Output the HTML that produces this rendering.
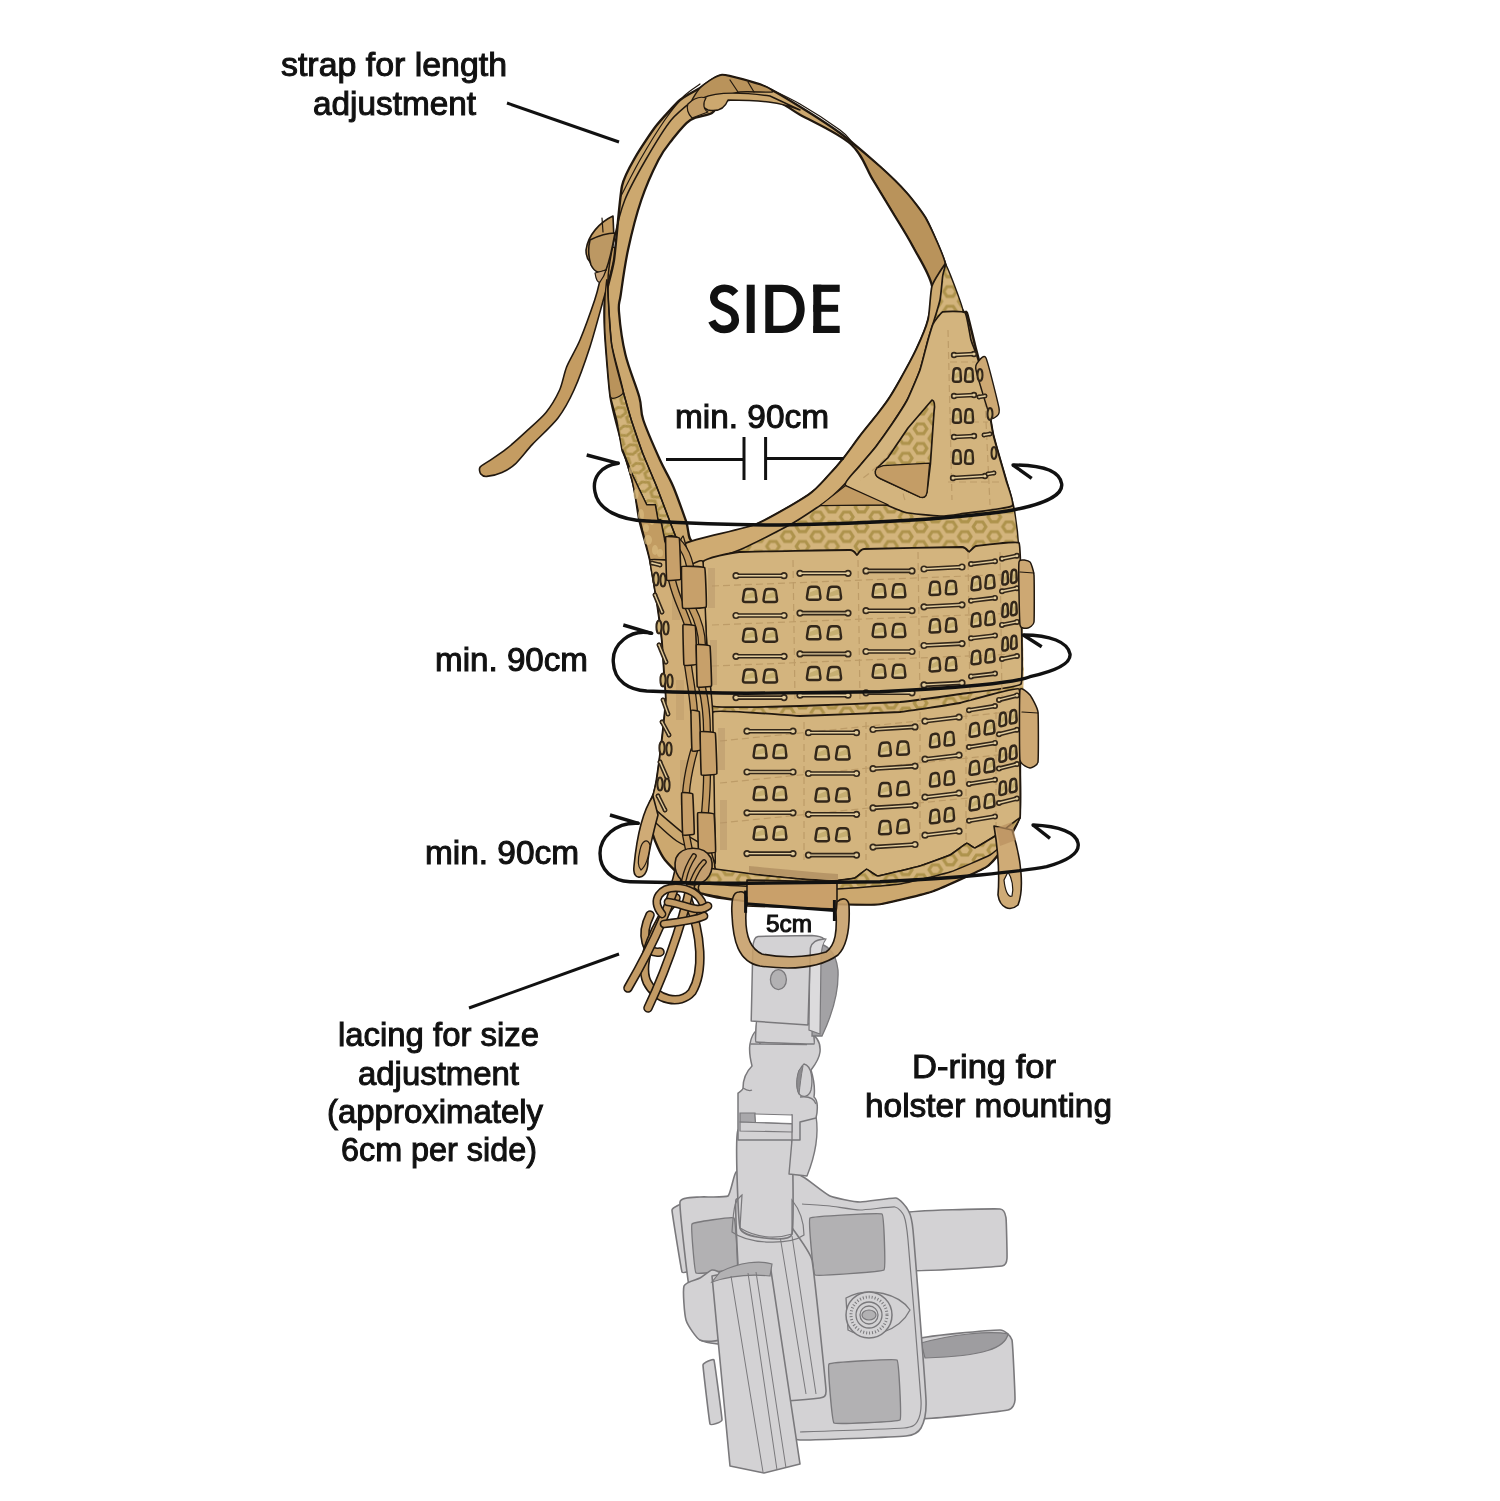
<!DOCTYPE html>
<html><head><meta charset="utf-8"><style>
html,body{margin:0;padding:0;background:#fff;}
body{width:1500px;height:1501px;overflow:hidden;position:relative;}
svg{position:absolute;left:0;top:0;will-change:transform;}
text{font-family:"Liberation Sans",sans-serif;fill:#111;}
</style></head><body>
<svg width="1500" height="1501" viewBox="0 0 1500 1501">
<defs><pattern id="hex" patternUnits="userSpaceOnUse" width="29.5" height="19.6" x="14.3" y="2.5"><rect width="29.5" height="19.6" fill="#d3b47c"/><g fill="none" stroke="#ae934c" stroke-width="3.1"><polygon points="-29.30,-14.80 -26.15,-19.60 -19.85,-19.60 -16.70,-14.80 -19.85,-10.00 -26.15,-10.00"/><polygon points="-29.30,4.80 -26.15,0.00 -19.85,0.00 -16.70,4.80 -19.85,9.60 -26.15,9.60"/><polygon points="-29.30,24.40 -26.15,19.60 -19.85,19.60 -16.70,24.40 -19.85,29.20 -26.15,29.20"/><polygon points="0.20,-14.80 3.35,-19.60 9.65,-19.60 12.80,-14.80 9.65,-10.00 3.35,-10.00"/><polygon points="0.20,4.80 3.35,0.00 9.65,0.00 12.80,4.80 9.65,9.60 3.35,9.60"/><polygon points="0.20,24.40 3.35,19.60 9.65,19.60 12.80,24.40 9.65,29.20 3.35,29.20"/><polygon points="29.70,-14.80 32.85,-19.60 39.15,-19.60 42.30,-14.80 39.15,-10.00 32.85,-10.00"/><polygon points="29.70,4.80 32.85,0.00 39.15,0.00 42.30,4.80 39.15,9.60 32.85,9.60"/><polygon points="29.70,24.40 32.85,19.60 39.15,19.60 42.30,24.40 39.15,29.20 32.85,29.20"/><polygon points="-14.55,-5.00 -11.40,-9.80 -5.10,-9.80 -1.95,-5.00 -5.10,-0.20 -11.40,-0.20"/><polygon points="-14.55,14.60 -11.40,9.80 -5.10,9.80 -1.95,14.60 -5.10,19.40 -11.40,19.40"/><polygon points="-14.55,34.20 -11.40,29.40 -5.10,29.40 -1.95,34.20 -5.10,39.00 -11.40,39.00"/><polygon points="14.95,-5.00 18.10,-9.80 24.40,-9.80 27.55,-5.00 24.40,-0.20 18.10,-0.20"/><polygon points="14.95,14.60 18.10,9.80 24.40,9.80 27.55,14.60 24.40,19.40 18.10,19.40"/><polygon points="14.95,34.20 18.10,29.40 24.40,29.40 27.55,34.20 24.40,39.00 18.10,39.00"/><polygon points="44.45,-5.00 47.60,-9.80 53.90,-9.80 57.05,-5.00 53.90,-0.20 47.60,-0.20"/><polygon points="44.45,14.60 47.60,9.80 53.90,9.80 57.05,14.60 53.90,19.40 47.60,19.40"/><polygon points="44.45,34.20 47.60,29.40 53.90,29.40 57.05,34.20 53.90,39.00 47.60,39.00"/></g></pattern><pattern id="hexs" patternUnits="userSpaceOnUse" width="19.6" height="24" x="0" y="0" patternTransform="rotate(72)"><rect width="19.6" height="24" fill="#d3b47c"/><g fill="none" stroke="#ae934c" stroke-width="2.8"><polygon points="-19.40,-17.50 -16.90,-24.00 -11.90,-24.00 -9.40,-17.50 -11.90,-11.00 -16.90,-11.00"/><polygon points="-19.40,6.50 -16.90,0.00 -11.90,0.00 -9.40,6.50 -11.90,13.00 -16.90,13.00"/><polygon points="-19.40,30.50 -16.90,24.00 -11.90,24.00 -9.40,30.50 -11.90,37.00 -16.90,37.00"/><polygon points="0.20,-17.50 2.70,-24.00 7.70,-24.00 10.20,-17.50 7.70,-11.00 2.70,-11.00"/><polygon points="0.20,6.50 2.70,0.00 7.70,0.00 10.20,6.50 7.70,13.00 2.70,13.00"/><polygon points="0.20,30.50 2.70,24.00 7.70,24.00 10.20,30.50 7.70,37.00 2.70,37.00"/><polygon points="19.80,-17.50 22.30,-24.00 27.30,-24.00 29.80,-17.50 27.30,-11.00 22.30,-11.00"/><polygon points="19.80,6.50 22.30,0.00 27.30,0.00 29.80,6.50 27.30,13.00 22.30,13.00"/><polygon points="19.80,30.50 22.30,24.00 27.30,24.00 29.80,30.50 27.30,37.00 22.30,37.00"/><polygon points="-9.60,-5.50 -7.10,-12.00 -2.10,-12.00 0.40,-5.50 -2.10,1.00 -7.10,1.00"/><polygon points="-9.60,18.50 -7.10,12.00 -2.10,12.00 0.40,18.50 -2.10,25.00 -7.10,25.00"/><polygon points="-9.60,42.50 -7.10,36.00 -2.10,36.00 0.40,42.50 -2.10,49.00 -7.10,49.00"/><polygon points="10.00,-5.50 12.50,-12.00 17.50,-12.00 20.00,-5.50 17.50,1.00 12.50,1.00"/><polygon points="10.00,18.50 12.50,12.00 17.50,12.00 20.00,18.50 17.50,25.00 12.50,25.00"/><polygon points="10.00,42.50 12.50,36.00 17.50,36.00 20.00,42.50 17.50,49.00 12.50,49.00"/><polygon points="29.60,-5.50 32.10,-12.00 37.10,-12.00 39.60,-5.50 37.10,1.00 32.10,1.00"/><polygon points="29.60,18.50 32.10,12.00 37.10,12.00 39.60,18.50 37.10,25.00 32.10,25.00"/><polygon points="29.60,42.50 32.10,36.00 37.10,36.00 39.60,42.50 37.10,49.00 32.10,49.00"/></g></pattern></defs>
<path d="M606.0,250.0 C603.9,254.0 601.5,273.3 600.0,280.0 C598.5,286.7 597.4,292.0 594.7,300.0 C592.0,308.0 583.7,331.1 580.0,340.0 C576.3,348.9 569.4,360.0 566.7,366.7 C564.0,373.4 562.4,383.9 559.6,390.0 C556.8,396.1 550.5,406.9 546.0,412.4 C541.5,417.9 531.3,426.7 526.0,431.6 C520.7,436.5 510.8,445.4 506.0,449.2 C501.2,453.0 493.5,458.0 490.0,460.4 C486.5,462.8 481.2,465.4 480.0,467.2 C478.8,469.0 479.9,472.8 480.8,474.0 C481.7,475.2 484.0,476.6 486.8,476.4 C489.6,476.2 498.3,474.0 502.0,472.4 C505.7,470.8 510.7,468.1 514.8,464.4 C518.9,460.7 526.6,450.6 532.4,444.4 C538.2,438.2 552.5,425.3 558.0,418.0 C563.5,410.7 569.7,399.5 574.0,390.0 C578.3,380.5 586.1,358.7 590.0,346.7 C593.9,334.7 600.8,308.9 603.3,300.0 C605.8,291.1 607.3,286.7 609.0,280.0 C610.7,273.3 616.4,254.0 616.0,250.0 C615.6,246.0 608.1,246.0 606.0,250.0 Z" fill="#c49c62" stroke="#21180f" stroke-width="1.6" stroke-linejoin="round" />
<path d="M722.0,75.0 C728.4,74.8 756.2,82.8 764.0,86.0 C771.8,89.2 792.4,102.0 800.0,106.7 C807.6,111.4 832.0,127.0 840.0,133.0 C848.0,139.0 873.3,160.7 880.0,166.7 C886.7,172.7 902.0,187.7 906.7,193.0 C911.4,198.3 922.8,212.9 926.7,220.0 C930.6,227.1 943.6,258.3 945.3,264.0 C947.0,269.7 942.2,272.3 944.0,277.0 C945.8,281.7 960.7,307.4 963.0,311.0 C965.3,314.6 965.8,309.6 967.0,313.0 C968.2,316.4 973.2,337.8 975.0,345.0 C976.8,352.2 983.2,376.1 985.0,385.0 C986.8,393.9 990.9,424.5 993.0,434.0 C995.1,443.5 1003.9,472.4 1006.0,480.0 C1008.1,487.6 1012.7,502.2 1014.0,510.0 C1015.3,517.8 1018.3,542.8 1019.0,558.0 C1019.7,573.2 1020.9,641.2 1021.0,662.0 C1021.1,682.8 1020.2,750.4 1020.0,766.0 C1019.8,781.6 1021.0,809.4 1019.0,818.0 C1017.0,826.6 1003.3,847.1 1000.0,852.0 C996.7,856.9 992.7,863.1 986.0,867.0 C979.3,870.9 943.6,887.3 933.0,891.0 C922.4,894.7 889.6,902.7 880.0,904.0 C870.4,905.3 850.3,904.3 837.0,904.0 C823.7,903.7 760.6,902.1 747.0,901.0 C733.4,899.9 709.2,897.1 701.0,893.0 C692.8,888.9 669.8,865.8 665.0,860.0 C660.2,854.2 654.6,840.3 653.0,835.0 C651.4,829.7 648.9,811.2 649.0,807.0 C649.1,802.8 653.2,795.7 654.0,793.0 C654.8,790.3 655.9,785.3 656.7,780.0 C657.5,774.7 661.1,748.0 662.0,740.0 C662.9,732.0 665.7,706.0 666.0,700.0 C666.3,694.0 665.1,686.0 664.7,680.0 C664.3,674.0 662.8,648.0 662.0,640.0 C661.2,632.0 657.9,608.0 656.7,600.0 C655.5,592.0 651.7,568.0 650.0,560.0 C648.3,552.0 640.9,527.3 639.3,520.0 C637.7,512.7 635.8,495.0 634.0,487.0 C632.2,479.0 623.4,449.0 621.0,440.0 C618.6,431.0 612.1,407.7 610.5,397.0 C608.9,386.3 605.5,342.8 605.0,333.0 C604.5,323.2 604.1,306.3 605.0,299.0 C605.9,291.7 612.3,271.3 614.0,260.0 C615.7,248.7 619.8,196.4 622.0,186.0 C624.2,175.6 632.6,162.0 636.0,156.0 C639.4,150.0 651.6,131.6 656.0,126.0 C660.4,120.4 675.6,103.8 680.0,100.0 C684.4,96.2 695.8,90.5 700.0,88.0 C704.2,85.5 715.6,75.2 722.0,75.0 Z" fill="#cca86f" stroke="#21180f" stroke-width="2.4" stroke-linejoin="round" />
<path d="M852.0,144.0 C852.7,142.7 874.5,161.8 880.0,166.7 C885.5,171.6 902.0,187.7 906.7,193.0 C911.4,198.3 922.8,212.9 926.7,220.0 C930.6,227.1 944.7,257.3 945.3,264.0 C945.9,270.7 936.2,288.7 933.0,287.0 C929.8,285.3 917.0,254.1 913.0,246.7 C909.0,239.3 897.0,219.7 893.0,213.0 C889.0,206.3 877.1,186.9 873.0,180.0 C868.9,173.1 851.3,145.3 852.0,144.0 Z" fill="#b9935b" stroke="#21180f" stroke-width="1.6" stroke-linejoin="round" />
<path d="M764.0,86.0 C770.0,89.0 787.3,96.7 800.0,104.0 C812.7,111.3 831.3,123.7 840.0,130.0 C848.7,136.3 850.0,140.0 852.0,142.0" fill="none" stroke="#21180f" stroke-width="1.2" stroke-linecap="round" stroke-linejoin="round" />
<path d="M610.5,397.0 L623.3,392.0 L631.3,420.0 L642.7,453.3 L656.7,486.7 L669.3,520.0 L677.0,540.0 L664.7,540.0 L660.7,520.0 L658.0,520.0 L655.3,504.7 L646.7,504.7 L633.3,476.7 L622.0,450.7 L616.7,420.0 Z" fill="url(#hexs)" stroke="#21180f" stroke-width="1.4" stroke-linejoin="round" />
<path d="M622.7,450.0 L632.0,480.0 L640.0,520.0 L650.0,560.0 L670.0,560.0 L664.7,540.0 L660.7,520.0 L658.0,520.0 L655.3,504.7 L646.7,504.7 L633.3,476.7 Z" fill="#c29c62" stroke="#21180f" stroke-width="1.4" stroke-linejoin="round" />
<ellipse cx="641" cy="515" rx="3" ry="6" fill="#d9bb7f" opacity="0.7"/>
<ellipse cx="648" cy="540" rx="4" ry="5" fill="#d9bb7f" opacity="0.7"/>
<ellipse cx="636" cy="494" rx="2.5" ry="5" fill="#d9bb7f" opacity="0.7"/>
<ellipse cx="655" cy="550" rx="3" ry="5" fill="#d9bb7f" opacity="0.7"/>
<ellipse cx="631" cy="470" rx="2" ry="4" fill="#d9bb7f" opacity="0.7"/>
<ellipse cx="646" cy="528" rx="3" ry="4" fill="#d9bb7f" opacity="0.7"/>
<ellipse cx="660" cy="553" rx="3" ry="4" fill="#d9bb7f" opacity="0.7"/>
<ellipse cx="652" cy="522" rx="2" ry="3" fill="#d9bb7f" opacity="0.7"/>
<path d="M605.0,299.0 C605.1,295.5 606.6,277.0 607.0,280.0 C607.4,283.0 610.5,336.5 611.6,344.0 C612.7,351.5 623.4,388.5 623.3,392.0 C623.2,395.5 611.7,400.9 610.5,397.0 C609.3,393.1 605.4,339.5 605.0,333.0 C604.6,326.5 604.9,302.5 605.0,299.0 Z" fill="#b9935b" stroke="#21180f" stroke-width="1.3" stroke-linejoin="round" />
<path d="M724.0,101.0 C733.7,98.7 757.3,96.7 770.0,99.0 C782.7,101.3 786.5,107.2 800.0,114.7 C813.5,122.2 838.5,133.1 850.7,144.0 C862.9,154.9 866.0,168.5 873.0,180.0 C880.0,191.5 886.3,201.9 893.0,213.0 C899.7,224.1 906.5,234.5 913.0,246.7 C919.5,258.9 929.5,273.8 932.0,286.0 C934.5,298.2 930.7,309.3 928.0,320.0 C925.3,330.7 920.7,340.0 916.0,350.0 C911.3,360.0 904.7,371.7 900.0,380.0 C895.3,388.3 892.0,394.0 888.0,400.0 C884.0,406.0 880.7,410.0 876.0,416.0 C871.3,422.0 865.3,429.1 860.0,436.0 C854.7,442.9 849.3,450.9 844.0,457.6 C838.7,464.3 833.9,469.8 828.0,476.0 C822.1,482.2 820.5,486.7 808.6,494.7 C796.7,502.7 771.5,517.3 756.7,524.0 C741.9,530.7 730.6,532.0 720.0,535.0 C709.4,538.0 698.7,544.3 693.0,542.0 C687.3,539.7 689.3,530.2 686.0,521.0 C682.7,511.8 677.6,496.9 673.3,486.7 C669.0,476.5 665.0,471.1 660.0,460.0 C655.0,448.9 646.8,430.5 643.3,420.0 C639.8,409.5 642.3,407.9 639.3,397.0 C636.3,386.1 628.8,368.8 625.4,354.6 C622.0,340.4 619.8,321.9 619.0,312.0 C618.2,302.1 619.2,305.3 620.7,295.0 C622.2,284.7 624.6,265.8 628.0,250.0 C631.4,234.2 636.2,215.0 641.3,200.0 C646.4,185.0 653.3,170.0 658.4,160.0 C663.5,150.0 666.7,146.7 672.0,140.0 C677.3,133.3 683.7,124.5 690.4,120.0 C697.1,115.5 706.4,116.2 712.0,113.0 C717.6,109.8 714.3,103.3 724.0,101.0 Z" fill="#fff" stroke="#21180f" stroke-width="2.3"/>
<path d="M712.8,84.8 C710.9,86.3 703.9,91.3 698.4,96.0 C692.9,100.7 678.2,111.5 671.2,120.0 C664.2,128.5 651.8,149.3 645.6,160.0 C639.4,170.7 629.0,189.3 624.8,200.0 C620.6,210.7 616.2,229.3 614.0,240.0 C611.8,250.7 608.3,266.1 608.0,280.0 C607.7,293.9 609.6,329.1 611.6,344.0 C613.6,358.9 620.7,381.9 623.3,392.0 C625.9,402.1 628.7,411.8 631.3,420.0 C633.9,428.2 639.3,444.4 642.7,453.3 C646.1,462.2 653.2,477.8 656.7,486.7 C660.2,495.6 666.6,512.9 669.3,520.0 C672.0,527.1 676.0,537.3 677.0,540.0" fill="none" stroke="#21180f" stroke-width="1.5" stroke-linecap="round" stroke-linejoin="round" />
<path d="M700.0,84.0 C697.9,85.6 688.7,91.2 684.0,96.0 C679.3,100.8 670.7,111.5 664.8,120.0 C658.9,128.5 645.8,149.9 640.0,160.0 C634.2,170.1 623.5,191.2 621.0,196.0" fill="none" stroke="#21180f" stroke-width="1.2" stroke-linecap="round" stroke-linejoin="round" />
<path d="M700.0,88.0 C703.2,84.9 715.6,75.2 722.0,75.0 C728.4,74.8 759.0,84.3 764.0,86.0 C769.0,87.7 774.4,91.4 772.0,92.0 C769.6,92.6 746.0,91.2 740.0,92.0 C734.0,92.8 717.0,98.6 712.0,100.0 C707.0,101.4 691.2,107.2 690.0,106.0 C688.8,104.8 696.8,91.1 700.0,88.0 Z" fill="#b9935b" stroke="#21180f" stroke-width="1.4" stroke-linejoin="round" />
<path d="M703,98 C715,92 740,92 770,96 L800,110 C780,102 760,100 728,100 C725,108 718,112 708,110 C700,106 700,102 703,98 Z" fill="#cca86f" stroke="#21180f" stroke-width="1.4" stroke-linejoin="round" />
<path d="M688,104 C694,98 700,96 706,98 C702,104 704,110 708,112 L692,118 C688,114 686,108 688,104 Z" fill="#c29c66" stroke="#21180f" stroke-width="1.2" stroke-linejoin="round" />
<path d="M730,80 L738,92 M748,82 L754,92" fill="none" stroke="#21180f" stroke-width="1.2" stroke-linecap="round" stroke-linejoin="round" />
<path d="M613,216 C600,222 588,235 586,250 C586,256 588,260 590,262 C593,270 598,273 605,272 L614,240 Z" fill="#c49c62" stroke="#21180f" stroke-width="1.6" stroke-linejoin="round" />
<path d="M590,240 C600,235 608,233 615,233 C612,250 609,262 606,270 C600,274 595,273 591,265 C588,256 588,248 590,240 Z" fill="#bc9863" stroke="#21180f" stroke-width="1.6" stroke-linejoin="round" />
<path d="M595,273 C596,280 598,283 600,282 C603,278 605,274 606,270 Z" fill="#c9a57a" stroke="#21180f" stroke-width="1.2" stroke-linejoin="round" />
<path d="M602,218 L603,232" fill="none" stroke="#21180f" stroke-width="1.2" stroke-linecap="round" stroke-linejoin="round" />
<path d="M690.8,564.0 C691.9,558.7 735.9,551.3 739.3,550.0 C742.6,548.7 788.5,525.5 791.3,524.0 C794.1,522.5 819.3,505.6 822.5,505.0 C825.7,504.4 883.0,504.6 886.6,505.0 C890.2,505.4 925.8,517.0 930.0,517.0 C934.2,517.0 1009.0,504.6 1012.0,506.0 C1015.0,507.4 1018.8,551.2 1019.0,558.0 C1019.2,564.8 1029.5,704.9 1019.0,710.0 C1008.5,715.1 715.9,714.9 705.0,710.0 C694.1,705.1 689.7,569.3 690.8,564.0 Z" fill="url(#hex)" stroke="#21180f" stroke-width="0" stroke-linejoin="round" />
<path d="M822.5,505.0 L886.6,505.0" fill="none" stroke="#21180f" stroke-width="1.4" stroke-linecap="round" stroke-linejoin="round" />
<path d="M945.3,264.0 C947.0,264.7 963.2,307.8 963.0,311.0 C962.8,314.2 944.7,311.1 942.7,312.0 C940.7,312.9 933.3,324.8 933.0,324.0 C932.7,323.2 937.2,304.0 938.0,300.0 C938.8,296.0 943.6,263.3 945.3,264.0 Z" fill="url(#hex)" stroke="#21180f" stroke-width="1.4" stroke-linejoin="round" />
<path d="M945.3,264.0 C946.4,263.0 943.2,272.4 942.7,276.0 C942.2,279.6 941.0,295.2 940.0,300.0 C939.0,304.8 934.2,320.0 933.0,324.0 C931.8,328.0 929.3,335.4 928.0,340.0 C926.7,344.6 922.1,364.0 920.0,370.0 C917.9,376.0 910.0,394.6 907.2,400.0 C904.4,405.4 895.1,419.4 892.0,424.0 C888.9,428.6 879.2,442.2 876.0,446.4 C872.8,450.6 863.2,461.8 860.0,465.6 C856.8,469.4 847.2,481.4 844.0,484.8 C840.8,488.2 830.4,497.9 828.0,500.0 C825.6,502.1 823.7,503.2 820.0,505.6 C816.3,508.0 799.4,519.6 791.3,524.0 C783.2,528.4 749.3,546.0 739.3,550.0 C729.2,554.0 696.2,564.7 690.8,564.0 C685.4,563.3 679.0,547.2 685.6,543.2 C692.2,539.2 744.4,528.9 756.7,524.0 C769.0,519.1 801.5,499.5 808.6,494.7 C815.7,489.9 824.5,479.7 828.0,476.0 C831.5,472.3 840.8,461.6 844.0,457.6 C847.2,453.6 856.8,440.2 860.0,436.0 C863.2,431.8 873.2,419.6 876.0,416.0 C878.8,412.4 885.6,403.6 888.0,400.0 C890.4,396.4 897.2,385.0 900.0,380.0 C902.8,375.0 913.2,356.0 916.0,350.0 C918.8,344.0 926.4,326.4 928.0,320.0 C929.6,313.6 930.3,291.6 932.0,286.0 C933.7,280.4 944.2,265.0 945.3,264.0 Z" fill="#cfab72" stroke="#21180f" stroke-width="1.7" stroke-linejoin="round" />
<path d="M942.7,312.0 C944.8,311.2 963.1,310.8 965.0,312.7 C966.9,314.6 970.2,337.1 971.0,340.0 C971.8,342.9 976.1,353.0 977.0,356.0 C977.9,359.0 983.9,379.8 985.0,385.0 C986.1,390.2 991.6,427.7 993.0,434.0 C994.4,440.3 1004.7,475.2 1006.0,480.0 C1007.3,484.8 1015.1,503.7 1012.0,506.0 C1008.9,508.3 964.8,513.3 960.0,514.0 C955.2,514.7 943.7,516.1 940.0,516.0 C936.3,515.9 910.3,514.0 904.0,512.0 C897.7,510.0 848.5,488.7 845.6,485.6 C842.7,482.5 858.0,468.2 860.0,465.6 C862.0,463.0 873.9,449.2 876.0,446.4 C878.1,443.6 889.9,427.1 892.0,424.0 C894.1,420.9 905.3,403.6 907.2,400.0 C909.1,396.4 918.6,374.0 920.0,370.0 C921.4,366.0 927.1,343.1 928.0,340.0 C928.9,336.9 932.0,325.9 933.0,324.0 C934.0,322.1 940.6,312.8 942.7,312.0 Z" fill="#d3b47e" stroke="#21180f" stroke-width="1.7" stroke-linejoin="round" />
<path d="M948,330 L952,500 M985,400 L990,505 M905,432 C890,455 875,470 860,480 M915,440 C905,470 900,490 905,500 M950,362 L980,362 M950,422 L988,422 M948,482 L1000,482" fill="none" stroke="#bd9c68" stroke-width="1.2" stroke-dasharray="7 4"/>
<path d="M932,400 C935,401 935,406 934,412 L930.4,464 L927,492 C926,497 924,498 920,497 L880,478.4 C875,476 874,472 877,468 L888,457.6 L908,428 Z" fill="url(#hex)" stroke="#21180f" stroke-width="1.7" stroke-linejoin="round" />
<path d="M883.2,465.6 L929.6,463.2 L927,492 C926,497 924,498 920,497 L880,478.4 C875,476 874,472 877,468 Z" fill="#c49d66" stroke="#21180f" stroke-width="1.2" stroke-linejoin="round" />
<path d="M845.6,485.6 L888,504.8 L820,505.6 Z" fill="#c29b63" stroke="#21180f" stroke-width="1.2" stroke-linejoin="round" />
<path d="M978.0,362.0 C979.0,360.8 983.9,353.4 986.0,358.0 C988.1,362.6 997.9,402.2 999.0,408.0 C1000.1,413.8 997.9,415.2 997.0,416.0 C996.1,416.8 992.1,420.6 990.0,416.0 C987.9,411.4 977.2,375.4 976.0,370.0 C974.8,364.6 977.0,363.2 978.0,362.0 Z" fill="#cda873" stroke="#21180f" stroke-width="1.4" stroke-linejoin="round" />
<path d="M954.0,355.0 L974.0,354.0" stroke="#33271a" stroke-width="4.6" stroke-linecap="round"/>
<circle cx="954.0" cy="355.0" r="3.2" fill="#33271a"/><circle cx="974.0" cy="354.0" r="3.2" fill="#33271a"/>
<path d="M954.0,355.0 L974.0,354.0" stroke="#e2cc9c" stroke-width="1.4" stroke-linecap="round"/>
<circle cx="954.0" cy="355.0" r="1.5000000000000002" fill="#e2cc9c"/><circle cx="974.0" cy="354.0" r="1.5000000000000002" fill="#e2cc9c"/>
<path d="M954.0,396.0 L974.0,395.0" stroke="#33271a" stroke-width="4.6" stroke-linecap="round"/>
<circle cx="954.0" cy="396.0" r="3.2" fill="#33271a"/><circle cx="974.0" cy="395.0" r="3.2" fill="#33271a"/>
<path d="M954.0,396.0 L974.0,395.0" stroke="#e2cc9c" stroke-width="1.4" stroke-linecap="round"/>
<circle cx="954.0" cy="396.0" r="1.5000000000000002" fill="#e2cc9c"/><circle cx="974.0" cy="395.0" r="1.5000000000000002" fill="#e2cc9c"/>
<path d="M954.0,437.0 L974.0,436.0" stroke="#33271a" stroke-width="4.6" stroke-linecap="round"/>
<circle cx="954.0" cy="437.0" r="3.2" fill="#33271a"/><circle cx="974.0" cy="436.0" r="3.2" fill="#33271a"/>
<path d="M954.0,437.0 L974.0,436.0" stroke="#e2cc9c" stroke-width="1.4" stroke-linecap="round"/>
<circle cx="954.0" cy="437.0" r="1.5000000000000002" fill="#e2cc9c"/><circle cx="974.0" cy="436.0" r="1.5000000000000002" fill="#e2cc9c"/>
<path d="M953.6,371.0 Q953.9,368.2 956.6,368.2 L957.2,368.2 Q959.9,368.2 960.2,371.0 L960.9,379.0 Q961.1,381.8 958.3,381.8 L955.5,381.8 Q952.7,381.8 953.0,379.0 Z" fill="#dcc590" stroke="#33271a" stroke-width="2.5" stroke-linejoin="round"/>
<path d="M954.7,378.8 L954.9,374.3 L959.9,370.2 L959.6,376.4 Z" fill="#b49c58" opacity="0.55"/>
<path d="M965.8,371.0 Q966.1,368.2 968.8,368.2 L969.4,368.2 Q972.1,368.2 972.4,371.0 L973.0,379.0 Q973.3,381.8 970.5,381.8 L967.7,381.8 Q964.9,381.8 965.1,379.0 Z" fill="#dcc590" stroke="#33271a" stroke-width="2.5" stroke-linejoin="round"/>
<path d="M966.9,378.8 L967.1,374.3 L972.1,370.2 L971.8,376.4 Z" fill="#b49c58" opacity="0.55"/>
<path d="M953.6,412.0 Q953.9,409.2 956.6,409.2 L957.2,409.2 Q959.9,409.2 960.2,412.0 L960.9,420.0 Q961.1,422.8 958.3,422.8 L955.5,422.8 Q952.7,422.8 953.0,420.0 Z" fill="#dcc590" stroke="#33271a" stroke-width="2.5" stroke-linejoin="round"/>
<path d="M954.7,419.8 L954.9,415.3 L959.9,411.2 L959.6,417.4 Z" fill="#b49c58" opacity="0.55"/>
<path d="M965.8,412.0 Q966.1,409.2 968.8,409.2 L969.4,409.2 Q972.1,409.2 972.4,412.0 L973.0,420.0 Q973.3,422.8 970.5,422.8 L967.7,422.8 Q964.9,422.8 965.1,420.0 Z" fill="#dcc590" stroke="#33271a" stroke-width="2.5" stroke-linejoin="round"/>
<path d="M966.9,419.8 L967.1,415.3 L972.1,411.2 L971.8,417.4 Z" fill="#b49c58" opacity="0.55"/>
<path d="M953.6,453.0 Q953.9,450.2 956.6,450.2 L957.2,450.2 Q959.9,450.2 960.2,453.0 L960.9,461.0 Q961.1,463.8 958.3,463.8 L955.5,463.8 Q952.7,463.8 953.0,461.0 Z" fill="#dcc590" stroke="#33271a" stroke-width="2.5" stroke-linejoin="round"/>
<path d="M954.7,460.8 L954.9,456.3 L959.9,452.2 L959.6,458.4 Z" fill="#b49c58" opacity="0.55"/>
<path d="M965.8,453.0 Q966.1,450.2 968.8,450.2 L969.4,450.2 Q972.1,450.2 972.4,453.0 L973.0,461.0 Q973.3,463.8 970.5,463.8 L967.7,463.8 Q964.9,463.8 965.1,461.0 Z" fill="#dcc590" stroke="#33271a" stroke-width="2.5" stroke-linejoin="round"/>
<path d="M966.9,460.8 L967.1,456.3 L972.1,452.2 L971.8,458.4 Z" fill="#b49c58" opacity="0.55"/>
<path d="M953.0,478.0 L985.0,476.0" stroke="#33271a" stroke-width="4.6" stroke-linecap="round"/>
<circle cx="953.0" cy="478.0" r="3.2" fill="#33271a"/><circle cx="985.0" cy="476.0" r="3.2" fill="#33271a"/>
<path d="M953.0,478.0 L985.0,476.0" stroke="#e2cc9c" stroke-width="1.4" stroke-linecap="round"/>
<circle cx="953.0" cy="478.0" r="1.5000000000000002" fill="#e2cc9c"/><circle cx="985.0" cy="476.0" r="1.5000000000000002" fill="#e2cc9c"/>
<path d="M979.0,397.0 L985.0,396.0" stroke="#33271a" stroke-width="4.6" stroke-linecap="round"/>
<circle cx="979.0" cy="397.0" r="2.4" fill="#33271a"/><circle cx="985.0" cy="396.0" r="2.4" fill="#33271a"/>
<path d="M979.0,397.0 L985.0,396.0" stroke="#e2cc9c" stroke-width="1.4" stroke-linecap="round"/>
<circle cx="979.0" cy="397.0" r="0.7" fill="#e2cc9c"/><circle cx="985.0" cy="396.0" r="0.7" fill="#e2cc9c"/>
<path d="M984.0,435.0 L990.0,434.0" stroke="#33271a" stroke-width="4.6" stroke-linecap="round"/>
<circle cx="984.0" cy="435.0" r="2.4" fill="#33271a"/><circle cx="990.0" cy="434.0" r="2.4" fill="#33271a"/>
<path d="M984.0,435.0 L990.0,434.0" stroke="#e2cc9c" stroke-width="1.4" stroke-linecap="round"/>
<circle cx="984.0" cy="435.0" r="0.7" fill="#e2cc9c"/><circle cx="990.0" cy="434.0" r="0.7" fill="#e2cc9c"/>
<path d="M988.0,474.0 L994.0,473.0" stroke="#33271a" stroke-width="4.6" stroke-linecap="round"/>
<circle cx="988.0" cy="474.0" r="2.4" fill="#33271a"/><circle cx="994.0" cy="473.0" r="2.4" fill="#33271a"/>
<path d="M988.0,474.0 L994.0,473.0" stroke="#e2cc9c" stroke-width="1.4" stroke-linecap="round"/>
<circle cx="988.0" cy="474.0" r="0.7" fill="#e2cc9c"/><circle cx="994.0" cy="473.0" r="0.7" fill="#e2cc9c"/>
<ellipse cx="980" cy="375" rx="2.5" ry="6" fill="#cfb274" stroke="#33271a" stroke-width="2"/>
<ellipse cx="990" cy="414" rx="2.5" ry="6" fill="#cfb274" stroke="#33271a" stroke-width="2"/>
<ellipse cx="994" cy="453" rx="2.5" ry="6" fill="#cfb274" stroke="#33271a" stroke-width="2"/>
<path d="M703.0,562.0 C704.3,558.1 733.4,552.5 739.3,552.0 C745.2,551.5 845.3,549.9 850.0,550.0 C854.7,550.1 856.4,555.0 857.0,555.0 C857.6,555.0 859.8,549.3 864.0,549.0 C868.2,548.7 957.8,546.9 962.0,547.0 C966.2,547.1 968.4,552.0 969.0,552.0 C969.6,552.0 974.0,546.4 976.0,546.0 C978.0,545.6 1017.2,540.8 1019.0,543.0 C1020.8,545.2 1020.9,594.4 1021.0,600.0 C1021.1,605.6 1023.4,680.2 1021.0,684.0 C1018.6,687.8 964.8,693.3 960.0,694.0 C955.2,694.7 906.4,701.5 900.0,702.0 C893.6,702.5 807.5,705.8 800.0,706.0 C792.5,706.2 715.7,708.2 712.0,706.0 C708.3,703.8 707.4,655.8 707.0,650.0 C706.6,644.2 701.7,565.9 703.0,562.0 Z" fill="#d3b47e" stroke="#21180f" stroke-width="1.8" stroke-linejoin="round" />
<path d="M712.7,712.0 C716.1,708.6 792.5,716.0 800.0,716.0 C807.5,716.0 893.6,712.5 900.0,712.0 C906.4,711.5 955.2,703.9 960.0,703.0 C964.8,702.1 1016.6,686.5 1019.0,689.0 C1021.4,691.5 1020.0,760.8 1020.0,766.0 C1020.0,771.2 1020.8,815.3 1020.0,818.0 C1019.2,820.7 1001.8,831.8 1000.0,833.0 C998.2,834.2 976.3,847.6 975.0,848.0 C973.7,848.4 967.7,843.0 966.7,843.3 C965.7,843.6 951.9,854.1 950.0,855.0 C948.1,855.9 922.9,865.2 920.0,866.0 C917.1,866.8 880.1,875.9 878.0,876.0 C875.9,876.1 867.6,869.2 866.7,869.3 C865.8,869.4 856.3,877.5 855.0,878.0 C853.7,878.5 835.2,881.0 833.0,881.0 C830.8,881.0 802.9,879.2 800.0,879.0 C797.1,878.8 763.4,875.4 760.0,875.0 C756.6,874.6 717.1,872.0 715.3,869.0 C713.5,866.0 714.1,806.3 714.0,800.0 C713.9,793.7 709.3,715.4 712.7,712.0 Z" fill="#d3b47e" stroke="#21180f" stroke-width="1.8" stroke-linejoin="round" />
<path d="M793,560 L795,700" fill="none" stroke="#bd9c68" stroke-width="1.2" stroke-dasharray="7 4"/>
<path d="M858,560 L860,700" fill="none" stroke="#bd9c68" stroke-width="1.2" stroke-dasharray="7 4"/>
<path d="M918,552 L920,700" fill="none" stroke="#bd9c68" stroke-width="1.2" stroke-dasharray="7 4"/>
<path d="M968,552 L970,700" fill="none" stroke="#bd9c68" stroke-width="1.2" stroke-dasharray="7 4"/>
<path d="M1000,552 L1002,700" fill="none" stroke="#bd9c68" stroke-width="1.2" stroke-dasharray="7 4"/>
<path d="M804,722 L804,860" fill="none" stroke="#bd9c68" stroke-width="1.2" stroke-dasharray="7 4"/>
<path d="M866,722 L866,860" fill="none" stroke="#bd9c68" stroke-width="1.2" stroke-dasharray="7 4"/>
<path d="M920,712 L920,840" fill="none" stroke="#bd9c68" stroke-width="1.2" stroke-dasharray="7 4"/>
<path d="M966,712 L966,840" fill="none" stroke="#bd9c68" stroke-width="1.2" stroke-dasharray="7 4"/>
<path d="M996,712 L996,840" fill="none" stroke="#bd9c68" stroke-width="1.2" stroke-dasharray="7 4"/>
<path d="M712,586 L1018,574" fill="none" stroke="#bd9c68" stroke-width="1.2" stroke-dasharray="7 4"/>
<path d="M712,625 L1018,613" fill="none" stroke="#bd9c68" stroke-width="1.2" stroke-dasharray="7 4"/>
<path d="M712,666 L1018,654" fill="none" stroke="#bd9c68" stroke-width="1.2" stroke-dasharray="7 4"/>
<path d="M720,741 L1018,711" fill="none" stroke="#bd9c68" stroke-width="1.2" stroke-dasharray="7 4"/>
<path d="M720,783 L1018,753" fill="none" stroke="#bd9c68" stroke-width="1.2" stroke-dasharray="7 4"/>
<path d="M720,823 L1018,793" fill="none" stroke="#bd9c68" stroke-width="1.2" stroke-dasharray="7 4"/>
<path d="M736.0,575.7 L784.0,575.7" stroke="#33271a" stroke-width="4.6" stroke-linecap="round"/>
<circle cx="736.0" cy="575.7" r="3.6" fill="#33271a"/><circle cx="784.0" cy="575.7" r="3.6" fill="#33271a"/>
<path d="M736.0,575.7 L784.0,575.7" stroke="#e2cc9c" stroke-width="1.4" stroke-linecap="round"/>
<circle cx="736.0" cy="575.7" r="1.9000000000000001" fill="#e2cc9c"/><circle cx="784.0" cy="575.7" r="1.9000000000000001" fill="#e2cc9c"/>
<path d="M736.0,615.5 L784.0,615.5" stroke="#33271a" stroke-width="4.6" stroke-linecap="round"/>
<circle cx="736.0" cy="615.5" r="3.6" fill="#33271a"/><circle cx="784.0" cy="615.5" r="3.6" fill="#33271a"/>
<path d="M736.0,615.5 L784.0,615.5" stroke="#e2cc9c" stroke-width="1.4" stroke-linecap="round"/>
<circle cx="736.0" cy="615.5" r="1.9000000000000001" fill="#e2cc9c"/><circle cx="784.0" cy="615.5" r="1.9000000000000001" fill="#e2cc9c"/>
<path d="M736.0,656.3 L784.0,656.3" stroke="#33271a" stroke-width="4.6" stroke-linecap="round"/>
<circle cx="736.0" cy="656.3" r="3.6" fill="#33271a"/><circle cx="784.0" cy="656.3" r="3.6" fill="#33271a"/>
<path d="M736.0,656.3 L784.0,656.3" stroke="#e2cc9c" stroke-width="1.4" stroke-linecap="round"/>
<circle cx="736.0" cy="656.3" r="1.9000000000000001" fill="#e2cc9c"/><circle cx="784.0" cy="656.3" r="1.9000000000000001" fill="#e2cc9c"/>
<path d="M736.0,697.6 L784.0,697.6" stroke="#33271a" stroke-width="4.6" stroke-linecap="round"/>
<circle cx="736.0" cy="697.6" r="3.6" fill="#33271a"/><circle cx="784.0" cy="697.6" r="3.6" fill="#33271a"/>
<path d="M736.0,697.6 L784.0,697.6" stroke="#e2cc9c" stroke-width="1.4" stroke-linecap="round"/>
<circle cx="736.0" cy="697.6" r="1.9000000000000001" fill="#e2cc9c"/><circle cx="784.0" cy="697.6" r="1.9000000000000001" fill="#e2cc9c"/>
<path d="M744.2,591.8 Q744.6,589.1 747.4,589.1 L752.0,589.1 Q754.8,589.1 755.2,591.8 L756.4,599.4 Q756.8,602.1 754.0,602.1 L745.4,602.1 Q742.6,602.1 743.0,599.4 Z" fill="#dcc590" stroke="#33271a" stroke-width="2.5" stroke-linejoin="round"/>
<path d="M744.6,599.1 L745.6,594.9 L754.8,591.1 L755.3,596.9 Z" fill="#b49c58" opacity="0.55"/>
<path d="M764.8,591.8 Q765.2,589.1 768.0,589.1 L772.6,589.1 Q775.4,589.1 775.8,591.8 L777.0,599.4 Q777.4,602.1 774.6,602.1 L766.0,602.1 Q763.2,602.1 763.6,599.4 Z" fill="#dcc590" stroke="#33271a" stroke-width="2.5" stroke-linejoin="round"/>
<path d="M765.2,599.1 L766.2,594.9 L775.4,591.1 L775.9,596.9 Z" fill="#b49c58" opacity="0.55"/>
<path d="M744.2,631.4 Q744.6,628.7 747.4,628.7 L752.0,628.7 Q754.8,628.7 755.2,631.4 L756.4,639.0 Q756.8,641.7 754.0,641.7 L745.4,641.7 Q742.6,641.7 743.0,639.0 Z" fill="#dcc590" stroke="#33271a" stroke-width="2.5" stroke-linejoin="round"/>
<path d="M744.6,638.7 L745.6,634.5 L754.8,630.7 L755.3,636.5 Z" fill="#b49c58" opacity="0.55"/>
<path d="M764.8,631.4 Q765.2,628.7 768.0,628.7 L772.6,628.7 Q775.4,628.7 775.8,631.4 L777.0,639.0 Q777.4,641.7 774.6,641.7 L766.0,641.7 Q763.2,641.7 763.6,639.0 Z" fill="#dcc590" stroke="#33271a" stroke-width="2.5" stroke-linejoin="round"/>
<path d="M765.2,638.7 L766.2,634.5 L775.4,630.7 L775.9,636.5 Z" fill="#b49c58" opacity="0.55"/>
<path d="M744.2,672.2 Q744.6,669.5 747.4,669.5 L752.0,669.5 Q754.8,669.5 755.2,672.2 L756.4,679.8 Q756.8,682.5 754.0,682.5 L745.4,682.5 Q742.6,682.5 743.0,679.8 Z" fill="#dcc590" stroke="#33271a" stroke-width="2.5" stroke-linejoin="round"/>
<path d="M744.6,679.5 L745.6,675.3 L754.8,671.5 L755.3,677.3 Z" fill="#b49c58" opacity="0.55"/>
<path d="M764.8,672.2 Q765.2,669.5 768.0,669.5 L772.6,669.5 Q775.4,669.5 775.8,672.2 L777.0,679.8 Q777.4,682.5 774.6,682.5 L766.0,682.5 Q763.2,682.5 763.6,679.8 Z" fill="#dcc590" stroke="#33271a" stroke-width="2.5" stroke-linejoin="round"/>
<path d="M765.2,679.5 L766.2,675.3 L775.4,671.5 L775.9,677.3 Z" fill="#b49c58" opacity="0.55"/>
<path d="M800.0,573.3 L848.0,573.3" stroke="#33271a" stroke-width="4.6" stroke-linecap="round"/>
<circle cx="800.0" cy="573.3" r="3.6" fill="#33271a"/><circle cx="848.0" cy="573.3" r="3.6" fill="#33271a"/>
<path d="M800.0,573.3 L848.0,573.3" stroke="#e2cc9c" stroke-width="1.4" stroke-linecap="round"/>
<circle cx="800.0" cy="573.3" r="1.9000000000000001" fill="#e2cc9c"/><circle cx="848.0" cy="573.3" r="1.9000000000000001" fill="#e2cc9c"/>
<path d="M800.0,613.1 L848.0,613.1" stroke="#33271a" stroke-width="4.6" stroke-linecap="round"/>
<circle cx="800.0" cy="613.1" r="3.6" fill="#33271a"/><circle cx="848.0" cy="613.1" r="3.6" fill="#33271a"/>
<path d="M800.0,613.1 L848.0,613.1" stroke="#e2cc9c" stroke-width="1.4" stroke-linecap="round"/>
<circle cx="800.0" cy="613.1" r="1.9000000000000001" fill="#e2cc9c"/><circle cx="848.0" cy="613.1" r="1.9000000000000001" fill="#e2cc9c"/>
<path d="M800.0,653.9 L848.0,653.9" stroke="#33271a" stroke-width="4.6" stroke-linecap="round"/>
<circle cx="800.0" cy="653.9" r="3.6" fill="#33271a"/><circle cx="848.0" cy="653.9" r="3.6" fill="#33271a"/>
<path d="M800.0,653.9 L848.0,653.9" stroke="#e2cc9c" stroke-width="1.4" stroke-linecap="round"/>
<circle cx="800.0" cy="653.9" r="1.9000000000000001" fill="#e2cc9c"/><circle cx="848.0" cy="653.9" r="1.9000000000000001" fill="#e2cc9c"/>
<path d="M800.0,695.2 L848.0,695.2" stroke="#33271a" stroke-width="4.6" stroke-linecap="round"/>
<circle cx="800.0" cy="695.2" r="3.6" fill="#33271a"/><circle cx="848.0" cy="695.2" r="3.6" fill="#33271a"/>
<path d="M800.0,695.2 L848.0,695.2" stroke="#e2cc9c" stroke-width="1.4" stroke-linecap="round"/>
<circle cx="800.0" cy="695.2" r="1.9000000000000001" fill="#e2cc9c"/><circle cx="848.0" cy="695.2" r="1.9000000000000001" fill="#e2cc9c"/>
<path d="M808.2,589.4 Q808.6,586.7 811.4,586.7 L816.0,586.7 Q818.8,586.7 819.2,589.4 L820.4,597.0 Q820.8,599.7 818.0,599.7 L809.4,599.7 Q806.6,599.7 807.0,597.0 Z" fill="#dcc590" stroke="#33271a" stroke-width="2.5" stroke-linejoin="round"/>
<path d="M808.6,596.7 L809.6,592.5 L818.8,588.7 L819.3,594.5 Z" fill="#b49c58" opacity="0.55"/>
<path d="M828.8,589.4 Q829.2,586.7 832.0,586.7 L836.6,586.7 Q839.4,586.7 839.8,589.4 L841.0,597.0 Q841.4,599.7 838.6,599.7 L830.0,599.7 Q827.2,599.7 827.6,597.0 Z" fill="#dcc590" stroke="#33271a" stroke-width="2.5" stroke-linejoin="round"/>
<path d="M829.2,596.7 L830.2,592.5 L839.4,588.7 L839.9,594.5 Z" fill="#b49c58" opacity="0.55"/>
<path d="M808.2,629.0 Q808.6,626.3 811.4,626.3 L816.0,626.3 Q818.8,626.3 819.2,629.0 L820.4,636.6 Q820.8,639.3 818.0,639.3 L809.4,639.3 Q806.6,639.3 807.0,636.6 Z" fill="#dcc590" stroke="#33271a" stroke-width="2.5" stroke-linejoin="round"/>
<path d="M808.6,636.3 L809.6,632.1 L818.8,628.3 L819.3,634.1 Z" fill="#b49c58" opacity="0.55"/>
<path d="M828.8,629.0 Q829.2,626.3 832.0,626.3 L836.6,626.3 Q839.4,626.3 839.8,629.0 L841.0,636.6 Q841.4,639.3 838.6,639.3 L830.0,639.3 Q827.2,639.3 827.6,636.6 Z" fill="#dcc590" stroke="#33271a" stroke-width="2.5" stroke-linejoin="round"/>
<path d="M829.2,636.3 L830.2,632.1 L839.4,628.3 L839.9,634.1 Z" fill="#b49c58" opacity="0.55"/>
<path d="M808.2,669.8 Q808.6,667.1 811.4,667.1 L816.0,667.1 Q818.8,667.1 819.2,669.8 L820.4,677.4 Q820.8,680.1 818.0,680.1 L809.4,680.1 Q806.6,680.1 807.0,677.4 Z" fill="#dcc590" stroke="#33271a" stroke-width="2.5" stroke-linejoin="round"/>
<path d="M808.6,677.1 L809.6,672.9 L818.8,669.1 L819.3,674.9 Z" fill="#b49c58" opacity="0.55"/>
<path d="M828.8,669.8 Q829.2,667.1 832.0,667.1 L836.6,667.1 Q839.4,667.1 839.8,669.8 L841.0,677.4 Q841.4,680.1 838.6,680.1 L830.0,680.1 Q827.2,680.1 827.6,677.4 Z" fill="#dcc590" stroke="#33271a" stroke-width="2.5" stroke-linejoin="round"/>
<path d="M829.2,677.1 L830.2,672.9 L839.4,669.1 L839.9,674.9 Z" fill="#b49c58" opacity="0.55"/>
<path d="M866.0,570.9 L912.0,570.9" stroke="#33271a" stroke-width="4.6" stroke-linecap="round"/>
<circle cx="866.0" cy="570.9" r="3.6" fill="#33271a"/><circle cx="912.0" cy="570.9" r="3.6" fill="#33271a"/>
<path d="M866.0,570.9 L912.0,570.9" stroke="#e2cc9c" stroke-width="1.4" stroke-linecap="round"/>
<circle cx="866.0" cy="570.9" r="1.9000000000000001" fill="#e2cc9c"/><circle cx="912.0" cy="570.9" r="1.9000000000000001" fill="#e2cc9c"/>
<path d="M866.0,610.7 L912.0,610.7" stroke="#33271a" stroke-width="4.6" stroke-linecap="round"/>
<circle cx="866.0" cy="610.7" r="3.6" fill="#33271a"/><circle cx="912.0" cy="610.7" r="3.6" fill="#33271a"/>
<path d="M866.0,610.7 L912.0,610.7" stroke="#e2cc9c" stroke-width="1.4" stroke-linecap="round"/>
<circle cx="866.0" cy="610.7" r="1.9000000000000001" fill="#e2cc9c"/><circle cx="912.0" cy="610.7" r="1.9000000000000001" fill="#e2cc9c"/>
<path d="M866.0,651.5 L912.0,651.5" stroke="#33271a" stroke-width="4.6" stroke-linecap="round"/>
<circle cx="866.0" cy="651.5" r="3.6" fill="#33271a"/><circle cx="912.0" cy="651.5" r="3.6" fill="#33271a"/>
<path d="M866.0,651.5 L912.0,651.5" stroke="#e2cc9c" stroke-width="1.4" stroke-linecap="round"/>
<circle cx="866.0" cy="651.5" r="1.9000000000000001" fill="#e2cc9c"/><circle cx="912.0" cy="651.5" r="1.9000000000000001" fill="#e2cc9c"/>
<path d="M866.0,692.8 L912.0,692.8" stroke="#33271a" stroke-width="4.6" stroke-linecap="round"/>
<circle cx="866.0" cy="692.8" r="3.6" fill="#33271a"/><circle cx="912.0" cy="692.8" r="3.6" fill="#33271a"/>
<path d="M866.0,692.8 L912.0,692.8" stroke="#e2cc9c" stroke-width="1.4" stroke-linecap="round"/>
<circle cx="866.0" cy="692.8" r="1.9000000000000001" fill="#e2cc9c"/><circle cx="912.0" cy="692.8" r="1.9000000000000001" fill="#e2cc9c"/>
<path d="M873.8,587.0 Q874.2,584.3 877.0,584.3 L881.2,584.3 Q884.0,584.3 884.4,587.0 L885.5,594.6 Q885.9,597.3 883.1,597.3 L875.1,597.3 Q872.3,597.3 872.7,594.6 Z" fill="#dcc590" stroke="#33271a" stroke-width="2.5" stroke-linejoin="round"/>
<path d="M874.3,594.3 L875.2,590.1 L884.0,586.3 L884.4,592.1 Z" fill="#b49c58" opacity="0.55"/>
<path d="M893.6,587.0 Q894.0,584.3 896.8,584.3 L901.0,584.3 Q903.8,584.3 904.2,587.0 L905.3,594.6 Q905.7,597.3 902.9,597.3 L894.9,597.3 Q892.1,597.3 892.5,594.6 Z" fill="#dcc590" stroke="#33271a" stroke-width="2.5" stroke-linejoin="round"/>
<path d="M894.1,594.3 L895.0,590.1 L903.8,586.3 L904.2,592.1 Z" fill="#b49c58" opacity="0.55"/>
<path d="M873.8,626.6 Q874.2,623.9 877.0,623.9 L881.2,623.9 Q884.0,623.9 884.4,626.6 L885.5,634.2 Q885.9,636.9 883.1,636.9 L875.1,636.9 Q872.3,636.9 872.7,634.2 Z" fill="#dcc590" stroke="#33271a" stroke-width="2.5" stroke-linejoin="round"/>
<path d="M874.3,633.9 L875.2,629.7 L884.0,625.9 L884.4,631.7 Z" fill="#b49c58" opacity="0.55"/>
<path d="M893.6,626.6 Q894.0,623.9 896.8,623.9 L901.0,623.9 Q903.8,623.9 904.2,626.6 L905.3,634.2 Q905.7,636.9 902.9,636.9 L894.9,636.9 Q892.1,636.9 892.5,634.2 Z" fill="#dcc590" stroke="#33271a" stroke-width="2.5" stroke-linejoin="round"/>
<path d="M894.1,633.9 L895.0,629.7 L903.8,625.9 L904.2,631.7 Z" fill="#b49c58" opacity="0.55"/>
<path d="M873.8,667.4 Q874.2,664.7 877.0,664.7 L881.2,664.7 Q884.0,664.7 884.4,667.4 L885.5,675.0 Q885.9,677.7 883.1,677.7 L875.1,677.7 Q872.3,677.7 872.7,675.0 Z" fill="#dcc590" stroke="#33271a" stroke-width="2.5" stroke-linejoin="round"/>
<path d="M874.3,674.7 L875.2,670.5 L884.0,666.7 L884.4,672.5 Z" fill="#b49c58" opacity="0.55"/>
<path d="M893.6,667.4 Q894.0,664.7 896.8,664.7 L901.0,664.7 Q903.8,664.7 904.2,667.4 L905.3,675.0 Q905.7,677.7 902.9,677.7 L894.9,677.7 Q892.1,677.7 892.5,675.0 Z" fill="#dcc590" stroke="#33271a" stroke-width="2.5" stroke-linejoin="round"/>
<path d="M894.1,674.7 L895.0,670.5 L903.8,666.7 L904.2,672.5 Z" fill="#b49c58" opacity="0.55"/>
<path d="M924.0,569.0 L962.0,567.0" stroke="#33271a" stroke-width="4.6" stroke-linecap="round"/>
<circle cx="924.0" cy="569.0" r="3.6" fill="#33271a"/><circle cx="962.0" cy="567.0" r="3.6" fill="#33271a"/>
<path d="M924.0,569.0 L962.0,567.0" stroke="#e2cc9c" stroke-width="1.4" stroke-linecap="round"/>
<circle cx="924.0" cy="569.0" r="1.9000000000000001" fill="#e2cc9c"/><circle cx="962.0" cy="567.0" r="1.9000000000000001" fill="#e2cc9c"/>
<path d="M924.0,606.8 L962.0,604.8" stroke="#33271a" stroke-width="4.6" stroke-linecap="round"/>
<circle cx="924.0" cy="606.8" r="3.6" fill="#33271a"/><circle cx="962.0" cy="604.8" r="3.6" fill="#33271a"/>
<path d="M924.0,606.8 L962.0,604.8" stroke="#e2cc9c" stroke-width="1.4" stroke-linecap="round"/>
<circle cx="924.0" cy="606.8" r="1.9000000000000001" fill="#e2cc9c"/><circle cx="962.0" cy="604.8" r="1.9000000000000001" fill="#e2cc9c"/>
<path d="M924.0,645.5 L962.0,643.6" stroke="#33271a" stroke-width="4.6" stroke-linecap="round"/>
<circle cx="924.0" cy="645.5" r="3.6" fill="#33271a"/><circle cx="962.0" cy="643.6" r="3.6" fill="#33271a"/>
<path d="M924.0,645.5 L962.0,643.6" stroke="#e2cc9c" stroke-width="1.4" stroke-linecap="round"/>
<circle cx="924.0" cy="645.5" r="1.9000000000000001" fill="#e2cc9c"/><circle cx="962.0" cy="643.6" r="1.9000000000000001" fill="#e2cc9c"/>
<path d="M924.0,684.9 L962.0,682.9" stroke="#33271a" stroke-width="4.6" stroke-linecap="round"/>
<circle cx="924.0" cy="684.9" r="3.6" fill="#33271a"/><circle cx="962.0" cy="682.9" r="3.6" fill="#33271a"/>
<path d="M924.0,684.9 L962.0,682.9" stroke="#e2cc9c" stroke-width="1.4" stroke-linecap="round"/>
<circle cx="924.0" cy="684.9" r="1.9000000000000001" fill="#e2cc9c"/><circle cx="962.0" cy="682.9" r="1.9000000000000001" fill="#e2cc9c"/>
<path d="M930.5,584.8 Q930.8,582.0 933.6,581.8 L936.1,581.7 Q938.9,581.6 939.2,584.4 L940.1,591.8 Q940.5,594.6 937.7,594.7 L932.0,595.0 Q929.2,595.1 929.6,592.3 Z" fill="#dcc590" stroke="#33271a" stroke-width="2.5" stroke-linejoin="round"/>
<path d="M931.2,592.1 L931.8,587.9 L938.9,583.6 L939.0,589.3 Z" fill="#b49c58" opacity="0.55"/>
<path d="M946.8,583.9 Q947.1,581.2 949.9,581.0 L952.4,580.9 Q955.2,580.8 955.5,583.5 L956.4,591.0 Q956.8,593.7 954.0,593.9 L948.3,594.2 Q945.5,594.3 945.9,591.5 Z" fill="#dcc590" stroke="#33271a" stroke-width="2.5" stroke-linejoin="round"/>
<path d="M947.5,591.3 L948.1,587.0 L955.2,582.8 L955.3,588.5 Z" fill="#b49c58" opacity="0.55"/>
<path d="M930.5,622.4 Q930.8,619.6 933.6,619.4 L936.1,619.3 Q938.9,619.2 939.2,622.0 L940.1,629.4 Q940.5,632.2 937.7,632.3 L932.0,632.6 Q929.2,632.7 929.6,629.9 Z" fill="#dcc590" stroke="#33271a" stroke-width="2.5" stroke-linejoin="round"/>
<path d="M931.2,629.7 L931.8,625.5 L938.9,621.2 L939.0,626.9 Z" fill="#b49c58" opacity="0.55"/>
<path d="M946.8,621.5 Q947.1,618.8 949.9,618.6 L952.4,618.5 Q955.2,618.4 955.5,621.1 L956.4,628.6 Q956.8,631.3 954.0,631.5 L948.3,631.8 Q945.5,631.9 945.9,629.1 Z" fill="#dcc590" stroke="#33271a" stroke-width="2.5" stroke-linejoin="round"/>
<path d="M947.5,628.9 L948.1,624.6 L955.2,620.4 L955.3,626.1 Z" fill="#b49c58" opacity="0.55"/>
<path d="M930.5,661.2 Q930.8,658.4 933.6,658.2 L936.1,658.1 Q938.9,658.0 939.2,660.8 L940.1,668.2 Q940.5,671.0 937.7,671.1 L932.0,671.4 Q929.2,671.5 929.6,668.7 Z" fill="#dcc590" stroke="#33271a" stroke-width="2.5" stroke-linejoin="round"/>
<path d="M931.2,668.5 L931.8,664.3 L938.9,660.0 L939.0,665.7 Z" fill="#b49c58" opacity="0.55"/>
<path d="M946.8,660.3 Q947.1,657.6 949.9,657.4 L952.4,657.3 Q955.2,657.2 955.5,659.9 L956.4,667.4 Q956.8,670.1 954.0,670.3 L948.3,670.6 Q945.5,670.7 945.9,667.9 Z" fill="#dcc590" stroke="#33271a" stroke-width="2.5" stroke-linejoin="round"/>
<path d="M947.5,667.7 L948.1,663.4 L955.2,659.2 L955.3,664.9 Z" fill="#b49c58" opacity="0.55"/>
<path d="M971.0,564.1 L995.0,561.3" stroke="#33271a" stroke-width="4.6" stroke-linecap="round"/>
<circle cx="971.0" cy="564.1" r="3" fill="#33271a"/><circle cx="995.0" cy="561.3" r="3" fill="#33271a"/>
<path d="M971.0,564.1 L995.0,561.3" stroke="#e2cc9c" stroke-width="1.4" stroke-linecap="round"/>
<circle cx="971.0" cy="564.1" r="1.3" fill="#e2cc9c"/><circle cx="995.0" cy="561.3" r="1.3" fill="#e2cc9c"/>
<path d="M971.0,600.7 L995.0,597.9" stroke="#33271a" stroke-width="4.6" stroke-linecap="round"/>
<circle cx="971.0" cy="600.7" r="3" fill="#33271a"/><circle cx="995.0" cy="597.9" r="3" fill="#33271a"/>
<path d="M971.0,600.7 L995.0,597.9" stroke="#e2cc9c" stroke-width="1.4" stroke-linecap="round"/>
<circle cx="971.0" cy="600.7" r="1.3" fill="#e2cc9c"/><circle cx="995.0" cy="597.9" r="1.3" fill="#e2cc9c"/>
<path d="M971.0,638.3 L995.0,635.5" stroke="#33271a" stroke-width="4.6" stroke-linecap="round"/>
<circle cx="971.0" cy="638.3" r="3" fill="#33271a"/><circle cx="995.0" cy="635.5" r="3" fill="#33271a"/>
<path d="M971.0,638.3 L995.0,635.5" stroke="#e2cc9c" stroke-width="1.4" stroke-linecap="round"/>
<circle cx="971.0" cy="638.3" r="1.3" fill="#e2cc9c"/><circle cx="995.0" cy="635.5" r="1.3" fill="#e2cc9c"/>
<path d="M971.0,676.4 L995.0,673.6" stroke="#33271a" stroke-width="4.6" stroke-linecap="round"/>
<circle cx="971.0" cy="676.4" r="3" fill="#33271a"/><circle cx="995.0" cy="673.6" r="3" fill="#33271a"/>
<path d="M971.0,676.4 L995.0,673.6" stroke="#e2cc9c" stroke-width="1.4" stroke-linecap="round"/>
<circle cx="971.0" cy="676.4" r="1.3" fill="#e2cc9c"/><circle cx="995.0" cy="673.6" r="1.3" fill="#e2cc9c"/>
<path d="M972.3,580.1 Q972.6,577.3 975.4,577.0 L976.7,576.8 Q979.5,576.5 979.8,579.3 L980.5,586.6 Q980.8,589.4 978.1,589.7 L974.0,590.2 Q971.2,590.5 971.5,587.8 Z" fill="#dcc590" stroke="#33271a" stroke-width="2.5" stroke-linejoin="round"/>
<path d="M973.2,587.5 L973.6,583.2 L979.5,578.5 L979.3,584.2 Z" fill="#b49c58" opacity="0.55"/>
<path d="M986.2,578.4 Q986.5,575.7 989.3,575.3 L990.6,575.2 Q993.4,574.8 993.7,577.6 L994.5,584.9 Q994.8,587.7 992.0,588.0 L987.9,588.5 Q985.2,588.9 985.4,586.1 Z" fill="#dcc590" stroke="#33271a" stroke-width="2.5" stroke-linejoin="round"/>
<path d="M987.2,585.9 L987.5,581.5 L993.4,576.8 L993.3,582.5 Z" fill="#b49c58" opacity="0.55"/>
<path d="M972.3,616.5 Q972.6,613.7 975.4,613.4 L976.7,613.2 Q979.5,612.9 979.8,615.7 L980.5,623.0 Q980.8,625.8 978.1,626.1 L974.0,626.6 Q971.2,626.9 971.5,624.2 Z" fill="#dcc590" stroke="#33271a" stroke-width="2.5" stroke-linejoin="round"/>
<path d="M973.2,623.9 L973.6,619.6 L979.5,614.9 L979.3,620.6 Z" fill="#b49c58" opacity="0.55"/>
<path d="M986.2,614.8 Q986.5,612.1 989.3,611.7 L990.6,611.6 Q993.4,611.2 993.7,614.0 L994.5,621.3 Q994.8,624.1 992.0,624.4 L987.9,624.9 Q985.2,625.3 985.4,622.5 Z" fill="#dcc590" stroke="#33271a" stroke-width="2.5" stroke-linejoin="round"/>
<path d="M987.2,622.3 L987.5,617.9 L993.4,613.2 L993.3,618.9 Z" fill="#b49c58" opacity="0.55"/>
<path d="M972.3,654.1 Q972.6,651.3 975.4,651.0 L976.7,650.8 Q979.5,650.5 979.8,653.3 L980.5,660.6 Q980.8,663.4 978.1,663.7 L974.0,664.2 Q971.2,664.5 971.5,661.8 Z" fill="#dcc590" stroke="#33271a" stroke-width="2.5" stroke-linejoin="round"/>
<path d="M973.2,661.5 L973.6,657.2 L979.5,652.5 L979.3,658.2 Z" fill="#b49c58" opacity="0.55"/>
<path d="M986.2,652.4 Q986.5,649.7 989.3,649.3 L990.6,649.2 Q993.4,648.8 993.7,651.6 L994.5,658.9 Q994.8,661.7 992.0,662.0 L987.9,662.5 Q985.2,662.9 985.4,660.1 Z" fill="#dcc590" stroke="#33271a" stroke-width="2.5" stroke-linejoin="round"/>
<path d="M987.2,659.9 L987.5,655.5 L993.4,650.8 L993.3,656.5 Z" fill="#b49c58" opacity="0.55"/>
<path d="M1002.0,558.7 L1017.0,555.7" stroke="#33271a" stroke-width="4.6" stroke-linecap="round"/>
<circle cx="1002.0" cy="558.7" r="3" fill="#33271a"/><circle cx="1017.0" cy="555.7" r="3" fill="#33271a"/>
<path d="M1002.0,558.7 L1017.0,555.7" stroke="#e2cc9c" stroke-width="1.4" stroke-linecap="round"/>
<circle cx="1002.0" cy="558.7" r="1.3" fill="#e2cc9c"/><circle cx="1017.0" cy="555.7" r="1.3" fill="#e2cc9c"/>
<path d="M1002.0,591.3 L1017.0,588.3" stroke="#33271a" stroke-width="4.6" stroke-linecap="round"/>
<circle cx="1002.0" cy="591.3" r="3" fill="#33271a"/><circle cx="1017.0" cy="588.3" r="3" fill="#33271a"/>
<path d="M1002.0,591.3 L1017.0,588.3" stroke="#e2cc9c" stroke-width="1.4" stroke-linecap="round"/>
<circle cx="1002.0" cy="591.3" r="1.3" fill="#e2cc9c"/><circle cx="1017.0" cy="588.3" r="1.3" fill="#e2cc9c"/>
<path d="M1002.0,624.9 L1017.0,621.9" stroke="#33271a" stroke-width="4.6" stroke-linecap="round"/>
<circle cx="1002.0" cy="624.9" r="3" fill="#33271a"/><circle cx="1017.0" cy="621.9" r="3" fill="#33271a"/>
<path d="M1002.0,624.9 L1017.0,621.9" stroke="#e2cc9c" stroke-width="1.4" stroke-linecap="round"/>
<circle cx="1002.0" cy="624.9" r="1.3" fill="#e2cc9c"/><circle cx="1017.0" cy="621.9" r="1.3" fill="#e2cc9c"/>
<path d="M1002.0,659.0 L1017.0,656.0" stroke="#33271a" stroke-width="4.6" stroke-linecap="round"/>
<circle cx="1002.0" cy="659.0" r="3" fill="#33271a"/><circle cx="1017.0" cy="656.0" r="3" fill="#33271a"/>
<path d="M1002.0,659.0 L1017.0,656.0" stroke="#e2cc9c" stroke-width="1.4" stroke-linecap="round"/>
<circle cx="1002.0" cy="659.0" r="1.3" fill="#e2cc9c"/><circle cx="1017.0" cy="656.0" r="1.3" fill="#e2cc9c"/>
<path d="M1002.8,574.7 Q1003.0,571.9 1005.0,571.5 L1005.3,571.4 Q1007.3,571.0 1007.5,573.8 L1008.0,581.1 Q1008.1,583.9 1005.4,584.4 L1004.9,584.5 Q1002.1,585.1 1002.3,582.3 Z" fill="#dcc590" stroke="#33271a" stroke-width="2.5" stroke-linejoin="round"/>
<path d="M1004.1,582.1 L1004.0,577.7 L1007.3,573.0 L1006.6,578.7 Z" fill="#b49c58" opacity="0.55"/>
<path d="M1011.5,572.9 Q1011.7,570.1 1013.7,569.7 L1014.0,569.7 Q1016.0,569.3 1016.2,572.1 L1016.7,579.4 Q1016.9,582.2 1014.1,582.7 L1013.6,582.8 Q1010.9,583.4 1011.0,580.6 Z" fill="#dcc590" stroke="#33271a" stroke-width="2.5" stroke-linejoin="round"/>
<path d="M1012.9,580.4 L1012.7,576.0 L1016.0,571.3 L1015.4,576.9 Z" fill="#b49c58" opacity="0.55"/>
<path d="M1002.8,607.1 Q1003.0,604.3 1005.0,603.9 L1005.3,603.8 Q1007.3,603.4 1007.5,606.2 L1008.0,613.5 Q1008.1,616.3 1005.4,616.8 L1004.9,616.9 Q1002.1,617.5 1002.3,614.7 Z" fill="#dcc590" stroke="#33271a" stroke-width="2.5" stroke-linejoin="round"/>
<path d="M1004.1,614.5 L1004.0,610.1 L1007.3,605.4 L1006.6,611.1 Z" fill="#b49c58" opacity="0.55"/>
<path d="M1011.5,605.3 Q1011.7,602.5 1013.7,602.1 L1014.0,602.1 Q1016.0,601.7 1016.2,604.5 L1016.7,611.8 Q1016.9,614.6 1014.1,615.1 L1013.6,615.2 Q1010.9,615.8 1011.0,613.0 Z" fill="#dcc590" stroke="#33271a" stroke-width="2.5" stroke-linejoin="round"/>
<path d="M1012.9,612.8 L1012.7,608.4 L1016.0,603.7 L1015.4,609.3 Z" fill="#b49c58" opacity="0.55"/>
<path d="M1002.8,640.7 Q1003.0,637.9 1005.0,637.5 L1005.3,637.4 Q1007.3,637.0 1007.5,639.8 L1008.0,647.1 Q1008.1,649.9 1005.4,650.4 L1004.9,650.5 Q1002.1,651.1 1002.3,648.3 Z" fill="#dcc590" stroke="#33271a" stroke-width="2.5" stroke-linejoin="round"/>
<path d="M1004.1,648.1 L1004.0,643.7 L1007.3,639.0 L1006.6,644.7 Z" fill="#b49c58" opacity="0.55"/>
<path d="M1011.5,638.9 Q1011.7,636.1 1013.7,635.7 L1014.0,635.7 Q1016.0,635.3 1016.2,638.1 L1016.7,645.4 Q1016.9,648.2 1014.1,648.7 L1013.6,648.8 Q1010.9,649.4 1011.0,646.6 Z" fill="#dcc590" stroke="#33271a" stroke-width="2.5" stroke-linejoin="round"/>
<path d="M1012.9,646.4 L1012.7,642.0 L1016.0,637.3 L1015.4,642.9 Z" fill="#b49c58" opacity="0.55"/>
<path d="M747.0,731.2 L793.0,731.2" stroke="#33271a" stroke-width="4.6" stroke-linecap="round"/>
<circle cx="747.0" cy="731.2" r="3.6" fill="#33271a"/><circle cx="793.0" cy="731.2" r="3.6" fill="#33271a"/>
<path d="M747.0,731.2 L793.0,731.2" stroke="#e2cc9c" stroke-width="1.4" stroke-linecap="round"/>
<circle cx="747.0" cy="731.2" r="1.9000000000000001" fill="#e2cc9c"/><circle cx="793.0" cy="731.2" r="1.9000000000000001" fill="#e2cc9c"/>
<path d="M747.0,772.0 L793.0,772.0" stroke="#33271a" stroke-width="4.6" stroke-linecap="round"/>
<circle cx="747.0" cy="772.0" r="3.6" fill="#33271a"/><circle cx="793.0" cy="772.0" r="3.6" fill="#33271a"/>
<path d="M747.0,772.0 L793.0,772.0" stroke="#e2cc9c" stroke-width="1.4" stroke-linecap="round"/>
<circle cx="747.0" cy="772.0" r="1.9000000000000001" fill="#e2cc9c"/><circle cx="793.0" cy="772.0" r="1.9000000000000001" fill="#e2cc9c"/>
<path d="M747.0,812.8 L793.0,812.8" stroke="#33271a" stroke-width="4.6" stroke-linecap="round"/>
<circle cx="747.0" cy="812.8" r="3.6" fill="#33271a"/><circle cx="793.0" cy="812.8" r="3.6" fill="#33271a"/>
<path d="M747.0,812.8 L793.0,812.8" stroke="#e2cc9c" stroke-width="1.4" stroke-linecap="round"/>
<circle cx="747.0" cy="812.8" r="1.9000000000000001" fill="#e2cc9c"/><circle cx="793.0" cy="812.8" r="1.9000000000000001" fill="#e2cc9c"/>
<path d="M747.0,853.6 L793.0,853.6" stroke="#33271a" stroke-width="4.6" stroke-linecap="round"/>
<circle cx="747.0" cy="853.6" r="3.6" fill="#33271a"/><circle cx="793.0" cy="853.6" r="3.6" fill="#33271a"/>
<path d="M747.0,853.6 L793.0,853.6" stroke="#e2cc9c" stroke-width="1.4" stroke-linecap="round"/>
<circle cx="747.0" cy="853.6" r="1.9000000000000001" fill="#e2cc9c"/><circle cx="793.0" cy="853.6" r="1.9000000000000001" fill="#e2cc9c"/>
<path d="M754.8,747.8 Q755.2,745.1 758.0,745.1 L762.2,745.1 Q765.0,745.1 765.4,747.8 L766.5,755.4 Q766.9,758.1 764.1,758.1 L756.1,758.1 Q753.3,758.1 753.7,755.4 Z" fill="#dcc590" stroke="#33271a" stroke-width="2.5" stroke-linejoin="round"/>
<path d="M755.3,755.1 L756.2,750.9 L765.0,747.1 L765.4,752.9 Z" fill="#b49c58" opacity="0.55"/>
<path d="M774.6,747.8 Q775.0,745.1 777.8,745.1 L782.0,745.1 Q784.8,745.1 785.2,747.8 L786.3,755.4 Q786.7,758.1 783.9,758.1 L775.9,758.1 Q773.1,758.1 773.5,755.4 Z" fill="#dcc590" stroke="#33271a" stroke-width="2.5" stroke-linejoin="round"/>
<path d="M775.1,755.1 L776.0,750.9 L784.8,747.1 L785.2,752.9 Z" fill="#b49c58" opacity="0.55"/>
<path d="M754.8,789.8 Q755.2,787.1 758.0,787.1 L762.2,787.1 Q765.0,787.1 765.4,789.8 L766.5,797.4 Q766.9,800.1 764.1,800.1 L756.1,800.1 Q753.3,800.1 753.7,797.4 Z" fill="#dcc590" stroke="#33271a" stroke-width="2.5" stroke-linejoin="round"/>
<path d="M755.3,797.1 L756.2,792.9 L765.0,789.1 L765.4,794.9 Z" fill="#b49c58" opacity="0.55"/>
<path d="M774.6,789.8 Q775.0,787.1 777.8,787.1 L782.0,787.1 Q784.8,787.1 785.2,789.8 L786.3,797.4 Q786.7,800.1 783.9,800.1 L775.9,800.1 Q773.1,800.1 773.5,797.4 Z" fill="#dcc590" stroke="#33271a" stroke-width="2.5" stroke-linejoin="round"/>
<path d="M775.1,797.1 L776.0,792.9 L784.8,789.1 L785.2,794.9 Z" fill="#b49c58" opacity="0.55"/>
<path d="M754.8,829.4 Q755.2,826.7 758.0,826.7 L762.2,826.7 Q765.0,826.7 765.4,829.4 L766.5,837.0 Q766.9,839.7 764.1,839.7 L756.1,839.7 Q753.3,839.7 753.7,837.0 Z" fill="#dcc590" stroke="#33271a" stroke-width="2.5" stroke-linejoin="round"/>
<path d="M755.3,836.7 L756.2,832.5 L765.0,828.7 L765.4,834.5 Z" fill="#b49c58" opacity="0.55"/>
<path d="M774.6,829.4 Q775.0,826.7 777.8,826.7 L782.0,826.7 Q784.8,826.7 785.2,829.4 L786.3,837.0 Q786.7,839.7 783.9,839.7 L775.9,839.7 Q773.1,839.7 773.5,837.0 Z" fill="#dcc590" stroke="#33271a" stroke-width="2.5" stroke-linejoin="round"/>
<path d="M775.1,836.7 L776.0,832.5 L784.8,828.7 L785.2,834.5 Z" fill="#b49c58" opacity="0.55"/>
<path d="M808.5,732.7 L856.5,732.7" stroke="#33271a" stroke-width="4.6" stroke-linecap="round"/>
<circle cx="808.5" cy="732.7" r="3.6" fill="#33271a"/><circle cx="856.5" cy="732.7" r="3.6" fill="#33271a"/>
<path d="M808.5,732.7 L856.5,732.7" stroke="#e2cc9c" stroke-width="1.4" stroke-linecap="round"/>
<circle cx="808.5" cy="732.7" r="1.9000000000000001" fill="#e2cc9c"/><circle cx="856.5" cy="732.7" r="1.9000000000000001" fill="#e2cc9c"/>
<path d="M808.5,773.5 L856.5,773.5" stroke="#33271a" stroke-width="4.6" stroke-linecap="round"/>
<circle cx="808.5" cy="773.5" r="3.6" fill="#33271a"/><circle cx="856.5" cy="773.5" r="3.6" fill="#33271a"/>
<path d="M808.5,773.5 L856.5,773.5" stroke="#e2cc9c" stroke-width="1.4" stroke-linecap="round"/>
<circle cx="808.5" cy="773.5" r="1.9000000000000001" fill="#e2cc9c"/><circle cx="856.5" cy="773.5" r="1.9000000000000001" fill="#e2cc9c"/>
<path d="M808.5,814.3 L856.5,814.3" stroke="#33271a" stroke-width="4.6" stroke-linecap="round"/>
<circle cx="808.5" cy="814.3" r="3.6" fill="#33271a"/><circle cx="856.5" cy="814.3" r="3.6" fill="#33271a"/>
<path d="M808.5,814.3 L856.5,814.3" stroke="#e2cc9c" stroke-width="1.4" stroke-linecap="round"/>
<circle cx="808.5" cy="814.3" r="1.9000000000000001" fill="#e2cc9c"/><circle cx="856.5" cy="814.3" r="1.9000000000000001" fill="#e2cc9c"/>
<path d="M808.5,855.1 L856.5,855.1" stroke="#33271a" stroke-width="4.6" stroke-linecap="round"/>
<circle cx="808.5" cy="855.1" r="3.6" fill="#33271a"/><circle cx="856.5" cy="855.1" r="3.6" fill="#33271a"/>
<path d="M808.5,855.1 L856.5,855.1" stroke="#e2cc9c" stroke-width="1.4" stroke-linecap="round"/>
<circle cx="808.5" cy="855.1" r="1.9000000000000001" fill="#e2cc9c"/><circle cx="856.5" cy="855.1" r="1.9000000000000001" fill="#e2cc9c"/>
<path d="M816.7,749.3 Q817.1,746.6 819.9,746.6 L824.5,746.6 Q827.3,746.6 827.7,749.3 L828.9,756.9 Q829.3,759.6 826.5,759.6 L817.9,759.6 Q815.1,759.6 815.5,756.9 Z" fill="#dcc590" stroke="#33271a" stroke-width="2.5" stroke-linejoin="round"/>
<path d="M817.1,756.6 L818.1,752.4 L827.3,748.6 L827.8,754.4 Z" fill="#b49c58" opacity="0.55"/>
<path d="M837.3,749.3 Q837.7,746.6 840.5,746.6 L845.1,746.6 Q847.9,746.6 848.3,749.3 L849.5,756.9 Q849.9,759.6 847.1,759.6 L838.5,759.6 Q835.7,759.6 836.1,756.9 Z" fill="#dcc590" stroke="#33271a" stroke-width="2.5" stroke-linejoin="round"/>
<path d="M837.7,756.6 L838.7,752.4 L847.9,748.6 L848.4,754.4 Z" fill="#b49c58" opacity="0.55"/>
<path d="M816.7,791.3 Q817.1,788.6 819.9,788.6 L824.5,788.6 Q827.3,788.6 827.7,791.3 L828.9,798.9 Q829.3,801.6 826.5,801.6 L817.9,801.6 Q815.1,801.6 815.5,798.9 Z" fill="#dcc590" stroke="#33271a" stroke-width="2.5" stroke-linejoin="round"/>
<path d="M817.1,798.6 L818.1,794.4 L827.3,790.6 L827.8,796.4 Z" fill="#b49c58" opacity="0.55"/>
<path d="M837.3,791.3 Q837.7,788.6 840.5,788.6 L845.1,788.6 Q847.9,788.6 848.3,791.3 L849.5,798.9 Q849.9,801.6 847.1,801.6 L838.5,801.6 Q835.7,801.6 836.1,798.9 Z" fill="#dcc590" stroke="#33271a" stroke-width="2.5" stroke-linejoin="round"/>
<path d="M837.7,798.6 L838.7,794.4 L847.9,790.6 L848.4,796.4 Z" fill="#b49c58" opacity="0.55"/>
<path d="M816.7,830.9 Q817.1,828.2 819.9,828.2 L824.5,828.2 Q827.3,828.2 827.7,830.9 L828.9,838.5 Q829.3,841.2 826.5,841.2 L817.9,841.2 Q815.1,841.2 815.5,838.5 Z" fill="#dcc590" stroke="#33271a" stroke-width="2.5" stroke-linejoin="round"/>
<path d="M817.1,838.2 L818.1,834.0 L827.3,830.2 L827.8,836.0 Z" fill="#b49c58" opacity="0.55"/>
<path d="M837.3,830.9 Q837.7,828.2 840.5,828.2 L845.1,828.2 Q847.9,828.2 848.3,830.9 L849.5,838.5 Q849.9,841.2 847.1,841.2 L838.5,841.2 Q835.7,841.2 836.1,838.5 Z" fill="#dcc590" stroke="#33271a" stroke-width="2.5" stroke-linejoin="round"/>
<path d="M837.7,838.2 L838.7,834.0 L847.9,830.2 L848.4,836.0 Z" fill="#b49c58" opacity="0.55"/>
<path d="M873.0,729.5 L915.0,726.9" stroke="#33271a" stroke-width="4.6" stroke-linecap="round"/>
<circle cx="873.0" cy="729.5" r="3.6" fill="#33271a"/><circle cx="915.0" cy="726.9" r="3.6" fill="#33271a"/>
<path d="M873.0,729.5 L915.0,726.9" stroke="#e2cc9c" stroke-width="1.4" stroke-linecap="round"/>
<circle cx="873.0" cy="729.5" r="1.9000000000000001" fill="#e2cc9c"/><circle cx="915.0" cy="726.9" r="1.9000000000000001" fill="#e2cc9c"/>
<path d="M873.0,768.7 L915.0,766.1" stroke="#33271a" stroke-width="4.6" stroke-linecap="round"/>
<circle cx="873.0" cy="768.7" r="3.6" fill="#33271a"/><circle cx="915.0" cy="766.1" r="3.6" fill="#33271a"/>
<path d="M873.0,768.7 L915.0,766.1" stroke="#e2cc9c" stroke-width="1.4" stroke-linecap="round"/>
<circle cx="873.0" cy="768.7" r="1.9000000000000001" fill="#e2cc9c"/><circle cx="915.0" cy="766.1" r="1.9000000000000001" fill="#e2cc9c"/>
<path d="M873.0,807.9 L915.0,805.3" stroke="#33271a" stroke-width="4.6" stroke-linecap="round"/>
<circle cx="873.0" cy="807.9" r="3.6" fill="#33271a"/><circle cx="915.0" cy="805.3" r="3.6" fill="#33271a"/>
<path d="M873.0,807.9 L915.0,805.3" stroke="#e2cc9c" stroke-width="1.4" stroke-linecap="round"/>
<circle cx="873.0" cy="807.9" r="1.9000000000000001" fill="#e2cc9c"/><circle cx="915.0" cy="805.3" r="1.9000000000000001" fill="#e2cc9c"/>
<path d="M873.0,847.1 L915.0,844.5" stroke="#33271a" stroke-width="4.6" stroke-linecap="round"/>
<circle cx="873.0" cy="847.1" r="3.6" fill="#33271a"/><circle cx="915.0" cy="844.5" r="3.6" fill="#33271a"/>
<path d="M873.0,847.1 L915.0,844.5" stroke="#e2cc9c" stroke-width="1.4" stroke-linecap="round"/>
<circle cx="873.0" cy="847.1" r="1.9000000000000001" fill="#e2cc9c"/><circle cx="915.0" cy="844.5" r="1.9000000000000001" fill="#e2cc9c"/>
<path d="M880.1,745.7 Q880.5,742.9 883.3,742.7 L886.7,742.5 Q889.5,742.3 889.8,745.1 L890.8,752.5 Q891.2,755.3 888.4,755.5 L881.6,755.9 Q878.8,756.0 879.1,753.3 Z" fill="#dcc590" stroke="#33271a" stroke-width="2.5" stroke-linejoin="round"/>
<path d="M880.8,753.0 L881.5,748.8 L889.5,744.3 L889.7,750.1 Z" fill="#b49c58" opacity="0.55"/>
<path d="M898.2,744.6 Q898.5,741.8 901.3,741.6 L904.7,741.4 Q907.5,741.3 907.9,744.0 L908.9,751.4 Q909.2,754.2 906.4,754.4 L899.6,754.8 Q896.8,755.0 897.2,752.2 Z" fill="#dcc590" stroke="#33271a" stroke-width="2.5" stroke-linejoin="round"/>
<path d="M898.8,752.0 L899.5,747.7 L907.5,743.3 L907.7,749.0 Z" fill="#b49c58" opacity="0.55"/>
<path d="M880.1,786.1 Q880.5,783.3 883.3,783.1 L886.7,782.9 Q889.5,782.7 889.8,785.5 L890.8,792.9 Q891.2,795.7 888.4,795.9 L881.6,796.3 Q878.8,796.4 879.1,793.7 Z" fill="#dcc590" stroke="#33271a" stroke-width="2.5" stroke-linejoin="round"/>
<path d="M880.8,793.4 L881.5,789.2 L889.5,784.7 L889.7,790.5 Z" fill="#b49c58" opacity="0.55"/>
<path d="M898.2,785.0 Q898.5,782.2 901.3,782.0 L904.7,781.8 Q907.5,781.7 907.9,784.4 L908.9,791.8 Q909.2,794.6 906.4,794.8 L899.6,795.2 Q896.8,795.4 897.2,792.6 Z" fill="#dcc590" stroke="#33271a" stroke-width="2.5" stroke-linejoin="round"/>
<path d="M898.8,792.4 L899.5,788.1 L907.5,783.7 L907.7,789.4 Z" fill="#b49c58" opacity="0.55"/>
<path d="M880.1,824.1 Q880.5,821.3 883.3,821.1 L886.7,820.9 Q889.5,820.7 889.8,823.5 L890.8,830.9 Q891.2,833.7 888.4,833.9 L881.6,834.3 Q878.8,834.4 879.1,831.7 Z" fill="#dcc590" stroke="#33271a" stroke-width="2.5" stroke-linejoin="round"/>
<path d="M880.8,831.4 L881.5,827.2 L889.5,822.7 L889.7,828.5 Z" fill="#b49c58" opacity="0.55"/>
<path d="M898.2,823.0 Q898.5,820.2 901.3,820.0 L904.7,819.8 Q907.5,819.7 907.9,822.4 L908.9,829.8 Q909.2,832.6 906.4,832.8 L899.6,833.2 Q896.8,833.4 897.2,830.6 Z" fill="#dcc590" stroke="#33271a" stroke-width="2.5" stroke-linejoin="round"/>
<path d="M898.8,830.4 L899.5,826.1 L907.5,821.7 L907.7,827.4 Z" fill="#b49c58" opacity="0.55"/>
<path d="M925.0,721.2 L959.0,717.2" stroke="#33271a" stroke-width="4.6" stroke-linecap="round"/>
<circle cx="925.0" cy="721.2" r="3.6" fill="#33271a"/><circle cx="959.0" cy="717.2" r="3.6" fill="#33271a"/>
<path d="M925.0,721.2 L959.0,717.2" stroke="#e2cc9c" stroke-width="1.4" stroke-linecap="round"/>
<circle cx="925.0" cy="721.2" r="1.9000000000000001" fill="#e2cc9c"/><circle cx="959.0" cy="717.2" r="1.9000000000000001" fill="#e2cc9c"/>
<path d="M925.0,759.2 L959.0,755.2" stroke="#33271a" stroke-width="4.6" stroke-linecap="round"/>
<circle cx="925.0" cy="759.2" r="3.6" fill="#33271a"/><circle cx="959.0" cy="755.2" r="3.6" fill="#33271a"/>
<path d="M925.0,759.2 L959.0,755.2" stroke="#e2cc9c" stroke-width="1.4" stroke-linecap="round"/>
<circle cx="925.0" cy="759.2" r="1.9000000000000001" fill="#e2cc9c"/><circle cx="959.0" cy="755.2" r="1.9000000000000001" fill="#e2cc9c"/>
<path d="M925.0,797.2 L959.0,793.2" stroke="#33271a" stroke-width="4.6" stroke-linecap="round"/>
<circle cx="925.0" cy="797.2" r="3.6" fill="#33271a"/><circle cx="959.0" cy="793.2" r="3.6" fill="#33271a"/>
<path d="M925.0,797.2 L959.0,793.2" stroke="#e2cc9c" stroke-width="1.4" stroke-linecap="round"/>
<circle cx="925.0" cy="797.2" r="1.9000000000000001" fill="#e2cc9c"/><circle cx="959.0" cy="793.2" r="1.9000000000000001" fill="#e2cc9c"/>
<path d="M925.0,835.2 L959.0,831.2" stroke="#33271a" stroke-width="4.6" stroke-linecap="round"/>
<circle cx="925.0" cy="835.2" r="3.6" fill="#33271a"/><circle cx="959.0" cy="831.2" r="3.6" fill="#33271a"/>
<path d="M925.0,835.2 L959.0,831.2" stroke="#e2cc9c" stroke-width="1.4" stroke-linecap="round"/>
<circle cx="925.0" cy="835.2" r="1.9000000000000001" fill="#e2cc9c"/><circle cx="959.0" cy="831.2" r="1.9000000000000001" fill="#e2cc9c"/>
<path d="M930.8,737.2 Q931.1,734.4 933.9,734.1 L935.5,733.8 Q938.3,733.5 938.6,736.3 L939.4,743.6 Q939.7,746.4 937.0,746.7 L932.5,747.3 Q929.7,747.6 930.0,744.8 Z" fill="#dcc590" stroke="#33271a" stroke-width="2.5" stroke-linejoin="round"/>
<path d="M931.7,744.6 L932.1,740.3 L938.3,735.5 L938.2,741.2 Z" fill="#b49c58" opacity="0.55"/>
<path d="M945.4,735.4 Q945.7,732.6 948.5,732.3 L950.1,732.1 Q952.9,731.8 953.2,734.5 L954.0,741.9 Q954.3,744.6 951.5,745.0 L947.0,745.5 Q944.3,745.9 944.6,743.1 Z" fill="#dcc590" stroke="#33271a" stroke-width="2.5" stroke-linejoin="round"/>
<path d="M946.3,742.9 L946.7,738.5 L952.9,733.8 L952.8,739.4 Z" fill="#b49c58" opacity="0.55"/>
<path d="M930.8,776.4 Q931.1,773.6 933.9,773.3 L935.5,773.0 Q938.3,772.7 938.6,775.5 L939.4,782.8 Q939.7,785.6 937.0,785.9 L932.5,786.5 Q929.7,786.8 930.0,784.0 Z" fill="#dcc590" stroke="#33271a" stroke-width="2.5" stroke-linejoin="round"/>
<path d="M931.7,783.8 L932.1,779.5 L938.3,774.7 L938.2,780.4 Z" fill="#b49c58" opacity="0.55"/>
<path d="M945.4,774.6 Q945.7,771.8 948.5,771.5 L950.1,771.3 Q952.9,771.0 953.2,773.7 L954.0,781.1 Q954.3,783.8 951.5,784.2 L947.0,784.7 Q944.3,785.1 944.6,782.3 Z" fill="#dcc590" stroke="#33271a" stroke-width="2.5" stroke-linejoin="round"/>
<path d="M946.3,782.1 L946.7,777.7 L952.9,773.0 L952.8,778.6 Z" fill="#b49c58" opacity="0.55"/>
<path d="M930.8,813.2 Q931.1,810.4 933.9,810.1 L935.5,809.8 Q938.3,809.5 938.6,812.3 L939.4,819.6 Q939.7,822.4 937.0,822.7 L932.5,823.3 Q929.7,823.6 930.0,820.8 Z" fill="#dcc590" stroke="#33271a" stroke-width="2.5" stroke-linejoin="round"/>
<path d="M931.7,820.6 L932.1,816.3 L938.3,811.5 L938.2,817.2 Z" fill="#b49c58" opacity="0.55"/>
<path d="M945.4,811.4 Q945.7,808.6 948.5,808.3 L950.1,808.1 Q952.9,807.8 953.2,810.5 L954.0,817.9 Q954.3,820.6 951.5,821.0 L947.0,821.5 Q944.3,821.9 944.6,819.1 Z" fill="#dcc590" stroke="#33271a" stroke-width="2.5" stroke-linejoin="round"/>
<path d="M946.3,818.9 L946.7,814.5 L952.9,809.8 L952.8,815.4 Z" fill="#b49c58" opacity="0.55"/>
<path d="M969.0,710.3 L995.0,706.1" stroke="#33271a" stroke-width="4.6" stroke-linecap="round"/>
<circle cx="969.0" cy="710.3" r="3" fill="#33271a"/><circle cx="995.0" cy="706.1" r="3" fill="#33271a"/>
<path d="M969.0,710.3 L995.0,706.1" stroke="#e2cc9c" stroke-width="1.4" stroke-linecap="round"/>
<circle cx="969.0" cy="710.3" r="1.3" fill="#e2cc9c"/><circle cx="995.0" cy="706.1" r="1.3" fill="#e2cc9c"/>
<path d="M969.0,747.1 L995.0,742.9" stroke="#33271a" stroke-width="4.6" stroke-linecap="round"/>
<circle cx="969.0" cy="747.1" r="3" fill="#33271a"/><circle cx="995.0" cy="742.9" r="3" fill="#33271a"/>
<path d="M969.0,747.1 L995.0,742.9" stroke="#e2cc9c" stroke-width="1.4" stroke-linecap="round"/>
<circle cx="969.0" cy="747.1" r="1.3" fill="#e2cc9c"/><circle cx="995.0" cy="742.9" r="1.3" fill="#e2cc9c"/>
<path d="M969.0,783.9 L995.0,779.7" stroke="#33271a" stroke-width="4.6" stroke-linecap="round"/>
<circle cx="969.0" cy="783.9" r="3" fill="#33271a"/><circle cx="995.0" cy="779.7" r="3" fill="#33271a"/>
<path d="M969.0,783.9 L995.0,779.7" stroke="#e2cc9c" stroke-width="1.4" stroke-linecap="round"/>
<circle cx="969.0" cy="783.9" r="1.3" fill="#e2cc9c"/><circle cx="995.0" cy="779.7" r="1.3" fill="#e2cc9c"/>
<path d="M969.0,820.7 L995.0,816.5" stroke="#33271a" stroke-width="4.6" stroke-linecap="round"/>
<circle cx="969.0" cy="820.7" r="3" fill="#33271a"/><circle cx="995.0" cy="816.5" r="3" fill="#33271a"/>
<path d="M969.0,820.7 L995.0,816.5" stroke="#e2cc9c" stroke-width="1.4" stroke-linecap="round"/>
<circle cx="969.0" cy="820.7" r="1.3" fill="#e2cc9c"/><circle cx="995.0" cy="816.5" r="1.3" fill="#e2cc9c"/>
<path d="M970.4,726.7 Q970.7,723.9 973.5,723.4 L975.4,723.1 Q978.2,722.7 978.5,725.5 L979.3,732.7 Q979.7,735.5 976.9,735.9 L972.0,736.7 Q969.3,737.2 969.6,734.4 Z" fill="#dcc590" stroke="#33271a" stroke-width="2.5" stroke-linejoin="round"/>
<path d="M971.3,734.2 L971.7,729.8 L978.2,724.7 L978.2,730.3 Z" fill="#b49c58" opacity="0.55"/>
<path d="M985.5,724.3 Q985.8,721.5 988.6,721.0 L990.5,720.7 Q993.3,720.3 993.6,723.1 L994.4,730.3 Q994.7,733.1 992.0,733.5 L987.1,734.3 Q984.3,734.8 984.6,732.0 Z" fill="#dcc590" stroke="#33271a" stroke-width="2.5" stroke-linejoin="round"/>
<path d="M986.3,731.8 L986.8,727.3 L993.3,722.3 L993.2,727.9 Z" fill="#b49c58" opacity="0.55"/>
<path d="M970.4,764.7 Q970.7,761.9 973.5,761.4 L975.4,761.1 Q978.2,760.7 978.5,763.5 L979.3,770.7 Q979.7,773.5 976.9,773.9 L972.0,774.7 Q969.3,775.2 969.6,772.4 Z" fill="#dcc590" stroke="#33271a" stroke-width="2.5" stroke-linejoin="round"/>
<path d="M971.3,772.2 L971.7,767.8 L978.2,762.7 L978.2,768.3 Z" fill="#b49c58" opacity="0.55"/>
<path d="M985.5,762.3 Q985.8,759.5 988.6,759.0 L990.5,758.7 Q993.3,758.3 993.6,761.1 L994.4,768.3 Q994.7,771.1 992.0,771.5 L987.1,772.3 Q984.3,772.8 984.6,770.0 Z" fill="#dcc590" stroke="#33271a" stroke-width="2.5" stroke-linejoin="round"/>
<path d="M986.3,769.8 L986.8,765.3 L993.3,760.3 L993.2,765.9 Z" fill="#b49c58" opacity="0.55"/>
<path d="M970.4,800.3 Q970.7,797.5 973.5,797.0 L975.4,796.7 Q978.2,796.3 978.5,799.1 L979.3,806.3 Q979.7,809.1 976.9,809.5 L972.0,810.3 Q969.3,810.8 969.6,808.0 Z" fill="#dcc590" stroke="#33271a" stroke-width="2.5" stroke-linejoin="round"/>
<path d="M971.3,807.8 L971.7,803.4 L978.2,798.3 L978.2,803.9 Z" fill="#b49c58" opacity="0.55"/>
<path d="M985.5,797.9 Q985.8,795.1 988.6,794.6 L990.5,794.3 Q993.3,793.9 993.6,796.7 L994.4,803.9 Q994.7,806.7 992.0,807.1 L987.1,807.9 Q984.3,808.4 984.6,805.6 Z" fill="#dcc590" stroke="#33271a" stroke-width="2.5" stroke-linejoin="round"/>
<path d="M986.3,805.4 L986.8,800.9 L993.3,795.9 L993.2,801.5 Z" fill="#b49c58" opacity="0.55"/>
<path d="M999.0,699.9 L1017.0,695.4" stroke="#33271a" stroke-width="4.6" stroke-linecap="round"/>
<circle cx="999.0" cy="699.9" r="3" fill="#33271a"/><circle cx="1017.0" cy="695.4" r="3" fill="#33271a"/>
<path d="M999.0,699.9 L1017.0,695.4" stroke="#e2cc9c" stroke-width="1.4" stroke-linecap="round"/>
<circle cx="999.0" cy="699.9" r="1.3" fill="#e2cc9c"/><circle cx="1017.0" cy="695.4" r="1.3" fill="#e2cc9c"/>
<path d="M999.0,734.2 L1017.0,729.8" stroke="#33271a" stroke-width="4.6" stroke-linecap="round"/>
<circle cx="999.0" cy="734.2" r="3" fill="#33271a"/><circle cx="1017.0" cy="729.8" r="3" fill="#33271a"/>
<path d="M999.0,734.2 L1017.0,729.8" stroke="#e2cc9c" stroke-width="1.4" stroke-linecap="round"/>
<circle cx="999.0" cy="734.2" r="1.3" fill="#e2cc9c"/><circle cx="1017.0" cy="729.8" r="1.3" fill="#e2cc9c"/>
<path d="M999.0,768.6 L1017.0,764.1" stroke="#33271a" stroke-width="4.6" stroke-linecap="round"/>
<circle cx="999.0" cy="768.6" r="3" fill="#33271a"/><circle cx="1017.0" cy="764.1" r="3" fill="#33271a"/>
<path d="M999.0,768.6 L1017.0,764.1" stroke="#e2cc9c" stroke-width="1.4" stroke-linecap="round"/>
<circle cx="999.0" cy="768.6" r="1.3" fill="#e2cc9c"/><circle cx="1017.0" cy="764.1" r="1.3" fill="#e2cc9c"/>
<path d="M999.0,803.0 L1017.0,798.5" stroke="#33271a" stroke-width="4.6" stroke-linecap="round"/>
<circle cx="999.0" cy="803.0" r="3" fill="#33271a"/><circle cx="1017.0" cy="798.5" r="3" fill="#33271a"/>
<path d="M999.0,803.0 L1017.0,798.5" stroke="#e2cc9c" stroke-width="1.4" stroke-linecap="round"/>
<circle cx="999.0" cy="803.0" r="1.3" fill="#e2cc9c"/><circle cx="1017.0" cy="798.5" r="1.3" fill="#e2cc9c"/>
<path d="M1000.0,716.2 Q1000.2,713.4 1002.5,712.8 L1003.0,712.7 Q1005.4,712.1 1005.6,714.9 L1006.2,722.1 Q1006.4,724.9 1003.7,725.6 L1001.9,726.1 Q999.2,726.7 999.4,723.9 Z" fill="#dcc590" stroke="#33271a" stroke-width="2.5" stroke-linejoin="round"/>
<path d="M1001.2,723.7 L1001.2,719.3 L1005.4,714.1 L1004.9,719.7 Z" fill="#b49c58" opacity="0.55"/>
<path d="M1010.4,713.6 Q1010.6,710.8 1013.0,710.2 L1013.5,710.1 Q1015.8,709.5 1016.0,712.3 L1016.6,719.5 Q1016.8,722.3 1014.1,723.0 L1012.3,723.4 Q1009.6,724.1 1009.8,721.3 Z" fill="#dcc590" stroke="#33271a" stroke-width="2.5" stroke-linejoin="round"/>
<path d="M1011.6,721.1 L1011.6,716.7 L1015.8,711.5 L1015.3,717.1 Z" fill="#b49c58" opacity="0.55"/>
<path d="M1000.0,751.8 Q1000.2,749.0 1002.5,748.4 L1003.0,748.3 Q1005.4,747.7 1005.6,750.5 L1006.2,757.7 Q1006.4,760.5 1003.7,761.2 L1001.9,761.7 Q999.2,762.3 999.4,759.5 Z" fill="#dcc590" stroke="#33271a" stroke-width="2.5" stroke-linejoin="round"/>
<path d="M1001.2,759.3 L1001.2,754.9 L1005.4,749.7 L1004.9,755.3 Z" fill="#b49c58" opacity="0.55"/>
<path d="M1010.4,749.2 Q1010.6,746.4 1013.0,745.8 L1013.5,745.7 Q1015.8,745.1 1016.0,747.9 L1016.6,755.1 Q1016.8,757.9 1014.1,758.6 L1012.3,759.0 Q1009.6,759.7 1009.8,756.9 Z" fill="#dcc590" stroke="#33271a" stroke-width="2.5" stroke-linejoin="round"/>
<path d="M1011.6,756.7 L1011.6,752.3 L1015.8,747.1 L1015.3,752.7 Z" fill="#b49c58" opacity="0.55"/>
<path d="M1000.0,785.0 Q1000.2,782.2 1002.5,781.6 L1003.0,781.5 Q1005.4,780.9 1005.6,783.7 L1006.2,790.9 Q1006.4,793.7 1003.7,794.4 L1001.9,794.9 Q999.2,795.5 999.4,792.7 Z" fill="#dcc590" stroke="#33271a" stroke-width="2.5" stroke-linejoin="round"/>
<path d="M1001.2,792.5 L1001.2,788.1 L1005.4,782.9 L1004.9,788.5 Z" fill="#b49c58" opacity="0.55"/>
<path d="M1010.4,782.4 Q1010.6,779.6 1013.0,779.0 L1013.5,778.9 Q1015.8,778.3 1016.0,781.1 L1016.6,788.3 Q1016.8,791.1 1014.1,791.8 L1012.3,792.2 Q1009.6,792.9 1009.8,790.1 Z" fill="#dcc590" stroke="#33271a" stroke-width="2.5" stroke-linejoin="round"/>
<path d="M1011.6,789.9 L1011.6,785.5 L1015.8,780.3 L1015.3,785.9 Z" fill="#b49c58" opacity="0.55"/>
<rect x="708" y="568" width="7" height="40" fill="#b39268" opacity="0.45"/>
<rect x="710" y="640" width="7" height="45" fill="#b39268" opacity="0.45"/>
<rect x="718" y="728" width="7" height="42" fill="#b39268" opacity="0.45"/>
<rect x="720" y="800" width="7" height="50" fill="#b39268" opacity="0.45"/>
<path d="M701.0,868.0 C701.7,866.8 712.3,868.6 715.3,869.0 C718.2,869.4 755.8,874.5 760.0,875.0 C764.2,875.5 796.4,878.7 800.0,879.0 C803.6,879.3 830.2,881.0 833.0,881.0 C835.8,881.0 853.3,878.6 855.0,878.0 C856.7,877.4 865.6,869.4 866.7,869.3 C867.9,869.2 875.3,876.2 878.0,876.0 C880.7,875.8 916.4,867.0 920.0,866.0 C923.6,865.0 947.7,856.1 950.0,855.0 C952.3,853.9 965.5,843.6 966.7,843.3 C968.0,842.9 973.3,848.5 975.0,848.0 C976.7,847.5 997.8,834.5 1000.0,833.0 C1002.2,831.5 1020.0,817.0 1020.0,818.0 C1020.0,819.0 1001.7,849.5 1000.0,852.0 C998.3,854.5 989.4,865.0 986.0,867.0 C982.6,869.0 938.3,889.1 933.0,891.0 C927.7,892.9 884.8,903.4 880.0,904.0 C875.2,904.6 843.6,904.1 837.0,904.0 C830.4,903.9 753.8,901.5 747.0,901.0 C740.2,900.5 703.3,894.6 701.0,893.0 C698.7,891.4 700.3,869.2 701.0,868.0 Z" fill="url(#hex)" stroke="#21180f" stroke-width="1.6" stroke-linejoin="round" />
<path d="M701.0,884.0 C704.9,883.6 750.9,886.7 760.0,887.0 C769.1,887.3 827.7,889.2 837.0,889.0 C846.3,888.8 892.5,885.1 900.0,884.0 C907.5,882.9 944.0,873.9 950.0,872.0 C956.0,870.1 986.1,857.1 990.0,855.0 C993.9,852.9 1007.3,840.2 1008.0,840.0 C1008.7,839.8 1001.5,850.2 1000.0,852.0 C998.5,853.8 990.5,864.4 986.0,867.0 C981.5,869.6 940.1,888.5 933.0,891.0 C925.9,893.5 886.4,903.1 880.0,904.0 C873.6,904.9 845.9,904.2 837.0,904.0 C828.1,903.8 756.1,901.7 747.0,901.0 C737.9,900.3 704.1,894.1 701.0,893.0 C697.9,891.9 697.1,884.4 701.0,884.0 Z" fill="#cca86f" stroke="#21180f" stroke-width="1.5" stroke-linejoin="round" />
<path d="M749,866 C780,869 810,872 838,874 L838,880 C810,879 780,876 749,873 Z" fill="#b08e62" opacity="0.8"/>
<path d="M650.0,560.0 C649.3,562.0 656.1,596.0 656.7,600.0 C657.3,604.0 661.6,636.0 662.0,640.0 C662.4,644.0 664.5,677.0 664.7,680.0 C664.9,683.0 666.1,697.0 666.0,700.0 C665.9,703.0 662.5,736.0 662.0,740.0 C661.5,744.0 657.2,777.1 656.7,780.0 C656.2,782.9 652.8,795.5 652.7,797.0 C652.6,798.5 653.5,807.2 655.0,809.0 C656.5,810.8 680.2,831.0 683.0,833.0 C685.8,835.0 708.4,847.5 710.0,849.0 C711.6,850.5 715.2,868.9 715.3,862.0 C715.4,855.1 713.1,722.6 712.7,712.0 C712.3,701.4 707.5,657.5 707.0,650.0 C706.5,642.5 703.8,566.3 703.0,562.0 C702.2,557.7 691.8,565.3 690.8,564.0 C689.8,562.7 684.0,536.2 683.0,536.0 C682.0,535.8 671.6,558.8 670.0,560.0 C668.4,561.2 650.7,558.0 650.0,560.0 Z" fill="#d1af78" stroke="#21180f" stroke-width="1.5" stroke-linejoin="round" />
<path d="M652.7,820.0 C656.7,823.5 668.7,835.7 676.7,841.0 C684.8,846.3 697.0,850.2 701.0,852.0" fill="none" stroke="#21180f" stroke-width="1.4" stroke-linecap="round" stroke-linejoin="round" />
<path d="M652.0,563.0 L660.0,565.0" stroke="#33271a" stroke-width="4.6" stroke-linecap="round"/>
<circle cx="652.0" cy="563.0" r="2.4" fill="#33271a"/><circle cx="660.0" cy="565.0" r="2.4" fill="#33271a"/>
<path d="M652.0,563.0 L660.0,565.0" stroke="#e2cc9c" stroke-width="1.4" stroke-linecap="round"/>
<circle cx="652.0" cy="563.0" r="0.7" fill="#e2cc9c"/><circle cx="660.0" cy="565.0" r="0.7" fill="#e2cc9c"/>
<path d="M655.0,595.0 L662.0,612.0" stroke="#33271a" stroke-width="4.6" stroke-linecap="round"/>
<circle cx="655.0" cy="595.0" r="2.4" fill="#33271a"/><circle cx="662.0" cy="612.0" r="2.4" fill="#33271a"/>
<path d="M655.0,595.0 L662.0,612.0" stroke="#e2cc9c" stroke-width="1.4" stroke-linecap="round"/>
<circle cx="655.0" cy="595.0" r="0.7" fill="#e2cc9c"/><circle cx="662.0" cy="612.0" r="0.7" fill="#e2cc9c"/>
<path d="M659.0,645.0 L666.0,662.0" stroke="#33271a" stroke-width="4.6" stroke-linecap="round"/>
<circle cx="659.0" cy="645.0" r="2.4" fill="#33271a"/><circle cx="666.0" cy="662.0" r="2.4" fill="#33271a"/>
<path d="M659.0,645.0 L666.0,662.0" stroke="#e2cc9c" stroke-width="1.4" stroke-linecap="round"/>
<circle cx="659.0" cy="645.0" r="0.7" fill="#e2cc9c"/><circle cx="666.0" cy="662.0" r="0.7" fill="#e2cc9c"/>
<path d="M663.0,700.0 L668.0,714.0" stroke="#33271a" stroke-width="4.6" stroke-linecap="round"/>
<circle cx="663.0" cy="700.0" r="2.4" fill="#33271a"/><circle cx="668.0" cy="714.0" r="2.4" fill="#33271a"/>
<path d="M663.0,700.0 L668.0,714.0" stroke="#e2cc9c" stroke-width="1.4" stroke-linecap="round"/>
<circle cx="663.0" cy="700.0" r="0.7" fill="#e2cc9c"/><circle cx="668.0" cy="714.0" r="0.7" fill="#e2cc9c"/>
<path d="M662.0,722.0 L669.0,735.0" stroke="#33271a" stroke-width="4.6" stroke-linecap="round"/>
<circle cx="662.0" cy="722.0" r="2.4" fill="#33271a"/><circle cx="669.0" cy="735.0" r="2.4" fill="#33271a"/>
<path d="M662.0,722.0 L669.0,735.0" stroke="#e2cc9c" stroke-width="1.4" stroke-linecap="round"/>
<circle cx="662.0" cy="722.0" r="0.7" fill="#e2cc9c"/><circle cx="669.0" cy="735.0" r="0.7" fill="#e2cc9c"/>
<path d="M660.0,762.0 L667.0,778.0" stroke="#33271a" stroke-width="4.6" stroke-linecap="round"/>
<circle cx="660.0" cy="762.0" r="2.4" fill="#33271a"/><circle cx="667.0" cy="778.0" r="2.4" fill="#33271a"/>
<path d="M660.0,762.0 L667.0,778.0" stroke="#e2cc9c" stroke-width="1.4" stroke-linecap="round"/>
<circle cx="660.0" cy="762.0" r="0.7" fill="#e2cc9c"/><circle cx="667.0" cy="778.0" r="0.7" fill="#e2cc9c"/>
<path d="M658.0,796.0 L665.0,810.0" stroke="#33271a" stroke-width="4.6" stroke-linecap="round"/>
<circle cx="658.0" cy="796.0" r="2.4" fill="#33271a"/><circle cx="665.0" cy="810.0" r="2.4" fill="#33271a"/>
<path d="M658.0,796.0 L665.0,810.0" stroke="#e2cc9c" stroke-width="1.4" stroke-linecap="round"/>
<circle cx="658.0" cy="796.0" r="0.7" fill="#e2cc9c"/><circle cx="665.0" cy="810.0" r="0.7" fill="#e2cc9c"/>
<ellipse cx="656" cy="579" rx="2.6" ry="6.5" fill="#cfb274" stroke="#33271a" stroke-width="2"/>
<ellipse cx="663" cy="580" rx="2.6" ry="6.5" fill="#cfb274" stroke="#33271a" stroke-width="2"/>
<ellipse cx="659" cy="627" rx="2.6" ry="6.5" fill="#cfb274" stroke="#33271a" stroke-width="2"/>
<ellipse cx="666" cy="628" rx="2.6" ry="6.5" fill="#cfb274" stroke="#33271a" stroke-width="2"/>
<ellipse cx="663" cy="680" rx="2.6" ry="6.5" fill="#cfb274" stroke="#33271a" stroke-width="2"/>
<ellipse cx="670" cy="681" rx="2.6" ry="6.5" fill="#cfb274" stroke="#33271a" stroke-width="2"/>
<ellipse cx="662" cy="748" rx="2.6" ry="6.5" fill="#cfb274" stroke="#33271a" stroke-width="2"/>
<ellipse cx="669" cy="749" rx="2.6" ry="6.5" fill="#cfb274" stroke="#33271a" stroke-width="2"/>
<ellipse cx="660" cy="784" rx="2.6" ry="6.5" fill="#cfb274" stroke="#33271a" stroke-width="2"/>
<ellipse cx="667" cy="785" rx="2.6" ry="6.5" fill="#cfb274" stroke="#33271a" stroke-width="2"/>
<rect x="672" y="580" width="8" height="40" fill="#b99566" opacity="0.4"/>
<rect x="676" y="680" width="8" height="40" fill="#b99566" opacity="0.4"/>
<rect x="680" y="760" width="8" height="45" fill="#b99566" opacity="0.4"/>
<path d="M668,540 C676,536 686,548 690,566" fill="none" stroke="#21180f" stroke-width="8.1" stroke-linecap="round" stroke-linejoin="round" />
<path d="M668,540 C676,536 686,548 690,566" fill="none" stroke="#c29a62" stroke-width="5.5" stroke-linecap="round" stroke-linejoin="round" />
<path d="M672,580 C676,598 684,612 688,625" fill="none" stroke="#21180f" stroke-width="8.1" stroke-linecap="round" stroke-linejoin="round" />
<path d="M672,580 C676,598 684,612 688,625" fill="none" stroke="#c29a62" stroke-width="5.5" stroke-linecap="round" stroke-linejoin="round" />
<path d="M692,608 C698,620 702,632 702,645" fill="none" stroke="#21180f" stroke-width="8.1" stroke-linecap="round" stroke-linejoin="round" />
<path d="M692,608 C698,620 702,632 702,645" fill="none" stroke="#c29a62" stroke-width="5.5" stroke-linecap="round" stroke-linejoin="round" />
<path d="M688,665 C690,680 693,695 694,711" fill="none" stroke="#21180f" stroke-width="8.1" stroke-linecap="round" stroke-linejoin="round" />
<path d="M688,665 C690,680 693,695 694,711" fill="none" stroke="#c29a62" stroke-width="5.5" stroke-linecap="round" stroke-linejoin="round" />
<path d="M702,687 C705,700 707,715 707,732" fill="none" stroke="#21180f" stroke-width="8.1" stroke-linecap="round" stroke-linejoin="round" />
<path d="M702,687 C705,700 707,715 707,732" fill="none" stroke="#c29a62" stroke-width="5.5" stroke-linecap="round" stroke-linejoin="round" />
<path d="M694,751 C690,765 687,780 686,793" fill="none" stroke="#21180f" stroke-width="8.1" stroke-linecap="round" stroke-linejoin="round" />
<path d="M694,751 C690,765 687,780 686,793" fill="none" stroke="#c29a62" stroke-width="5.5" stroke-linecap="round" stroke-linejoin="round" />
<path d="M707,775 C707,790 706,800 705,813" fill="none" stroke="#21180f" stroke-width="8.1" stroke-linecap="round" stroke-linejoin="round" />
<path d="M707,775 C707,790 706,800 705,813" fill="none" stroke="#c29a62" stroke-width="5.5" stroke-linecap="round" stroke-linejoin="round" />
<path d="M686,835 C688,845 689,850 690,855" fill="none" stroke="#21180f" stroke-width="8.1" stroke-linecap="round" stroke-linejoin="round" />
<path d="M686,835 C688,845 689,850 690,855" fill="none" stroke="#c29a62" stroke-width="5.5" stroke-linecap="round" stroke-linejoin="round" />
<path d="M665.7,537.0 C666.0,535.9 678.9,536.9 679.3,538.0 C679.7,539.1 681.1,577.9 680.8,579.0 C680.5,580.1 667.1,581.1 666.7,580.0 C666.3,578.9 665.4,538.1 665.7,537.0 Z" fill="#c7a06a" stroke="#21180f" stroke-width="1.6" stroke-linejoin="round"/>
<path d="M681.7,566.7 C682.3,565.6 704.0,566.6 704.7,567.7 C705.4,568.8 706.8,605.9 706.2,607.0 C705.6,608.1 683.4,609.1 682.7,608.0 C682.0,606.9 681.1,567.8 681.7,566.7 Z" fill="#c7a06a" stroke="#21180f" stroke-width="1.6" stroke-linejoin="round"/>
<path d="M683.0,625.0 C683.3,624.0 694.9,625.0 695.3,626.0 C695.7,627.0 697.1,663.0 696.8,664.0 C696.5,665.0 684.4,666.0 684.0,665.0 C683.6,664.0 682.7,626.0 683.0,625.0 Z" fill="#c7a06a" stroke="#21180f" stroke-width="1.6" stroke-linejoin="round"/>
<path d="M696.3,645.0 C696.6,643.9 709.6,644.9 710.0,646.0 C710.4,647.1 711.8,684.6 711.5,685.7 C711.2,686.8 697.7,687.8 697.3,686.7 C696.9,685.6 696.0,646.1 696.3,645.0 Z" fill="#c7a06a" stroke="#21180f" stroke-width="1.6" stroke-linejoin="round"/>
<path d="M691.0,710.7 C691.2,709.7 699.0,710.7 699.3,711.7 C699.6,712.7 701.0,748.7 700.8,749.7 C700.6,750.7 692.3,751.7 692.0,750.7 C691.7,749.7 690.8,711.7 691.0,710.7 Z" fill="#c7a06a" stroke="#21180f" stroke-width="1.6" stroke-linejoin="round"/>
<path d="M700.3,732.0 C700.7,730.9 714.9,731.9 715.3,733.0 C715.7,734.1 717.2,772.6 716.8,773.7 C716.4,774.8 701.7,775.8 701.3,774.7 C700.9,773.6 699.9,733.1 700.3,732.0 Z" fill="#c7a06a" stroke="#21180f" stroke-width="1.6" stroke-linejoin="round"/>
<path d="M681.7,793.0 C682.0,791.9 692.4,792.9 692.7,794.0 C693.0,795.1 694.5,832.6 694.2,833.7 C693.9,834.8 683.0,835.8 682.7,834.7 C682.4,833.6 681.4,794.1 681.7,793.0 Z" fill="#c7a06a" stroke="#21180f" stroke-width="1.6" stroke-linejoin="round"/>
<path d="M697.7,813.0 C698.1,812.0 713.5,813.0 714.0,814.0 C714.5,815.0 715.9,851.0 715.5,852.0 C715.1,853.0 699.2,854.0 698.7,853.0 C698.2,852.0 697.3,814.0 697.7,813.0 Z" fill="#c7a06a" stroke="#21180f" stroke-width="1.6" stroke-linejoin="round"/>
<path d="M653,796 C640,815 636,845 634,866 C633,874 636,878 640,877 C645,876 648,870 648,860 C650,845 654,830 658,815 Z" fill="#cfab76" stroke="#21180f" stroke-width="1.6" stroke-linejoin="round" />
<path d="M640,850 C642,840 648,838 650,845 C649,855 646,866 641,870 C637,866 638,858 640,850 Z" fill="#c9a06a" stroke="#21180f" stroke-width="1.2" stroke-linejoin="round" />
<path d="M994,826 C998,850 1000,870 998,895 C1000,908 1010,912 1018,905 C1024,890 1022,860 1012,830 Z" fill="#cfab76" stroke="#21180f" stroke-width="1.6" stroke-linejoin="round" />
<path d="M1004,880 C1005,890 1008,898 1012,896 C1014,888 1012,878 1008,872 Z" fill="#fff" stroke="#21180f" stroke-width="1.2" stroke-linejoin="round" />
<path d="M996,828 L1012,822 L1016,840 L1000,846 Z" fill="#b99060" opacity="0.7"/>
<path d="M1019.0,562.0 C1019.7,557.8 1029.0,561.1 1030.0,562.0 C1031.0,562.9 1033.7,571.0 1034.0,575.0 C1034.3,579.0 1034.4,618.5 1034.0,622.0 C1033.6,625.5 1028.9,627.8 1028.0,628.0 C1027.1,628.2 1020.6,629.4 1020.0,625.0 C1019.4,620.6 1018.3,566.2 1019.0,562.0 Z" fill="#cda873" stroke="#21180f" stroke-width="1.5" stroke-linejoin="round" />
<path d="M1020,572 L1034,573" fill="none" stroke="#21180f" stroke-width="1.2" stroke-linecap="round" stroke-linejoin="round" />
<path d="M1020.0,690.0 C1020.7,685.7 1028.8,693.5 1030.0,695.0 C1031.2,696.5 1037.5,707.5 1038.0,712.0 C1038.5,716.5 1038.5,758.3 1038.0,762.0 C1037.5,765.7 1031.2,768.1 1030.0,768.0 C1028.8,767.9 1020.7,765.2 1020.0,760.0 C1019.3,754.8 1019.3,694.3 1020.0,690.0 Z" fill="#cda873" stroke="#21180f" stroke-width="1.5" stroke-linejoin="round" />
<path d="M1022,712 L1038,713" fill="none" stroke="#21180f" stroke-width="1.2" stroke-linecap="round" stroke-linejoin="round" />
<path d="M650,915 C640,935 646,955 660,952" fill="none" stroke="#21180f" stroke-width="9.600000000000001" stroke-linecap="round" stroke-linejoin="round" />
<path d="M650,915 C640,935 646,955 660,952" fill="none" stroke="#c39b65" stroke-width="6.4" stroke-linecap="round" stroke-linejoin="round" />
<path d="M688,900 C702,935 704,972 692,992 C680,1006 656,1000 647,982 C638,962 656,922 676,898" fill="none" stroke="#21180f" stroke-width="9.600000000000001" stroke-linecap="round" stroke-linejoin="round" />
<path d="M688,900 C702,935 704,972 692,992 C680,1006 656,1000 647,982 C638,962 656,922 676,898" fill="none" stroke="#c39b65" stroke-width="6.4" stroke-linecap="round" stroke-linejoin="round" />
<path d="M680,866 C672,905 650,950 628,988" fill="none" stroke="#21180f" stroke-width="9.600000000000001" stroke-linecap="round" stroke-linejoin="round" />
<path d="M680,866 C672,905 650,950 628,988" fill="none" stroke="#c39b65" stroke-width="6.4" stroke-linecap="round" stroke-linejoin="round" />
<path d="M694,868 C688,905 670,962 648,1008" fill="none" stroke="#21180f" stroke-width="9.600000000000001" stroke-linecap="round" stroke-linejoin="round" />
<path d="M694,868 C688,905 670,962 648,1008" fill="none" stroke="#c39b65" stroke-width="6.4" stroke-linecap="round" stroke-linejoin="round" />
<path d="M676,858 C682,845 704,845 711,858 C715,871 708,883 694,885 C681,885 672,872 676,858 Z" fill="#c49f6f" stroke="#21180f" stroke-width="1.6" stroke-linejoin="round" />
<path d="M662,914 C650,900 660,886 680,888 C694,890 702,898 704,908" fill="none" stroke="#21180f" stroke-width="8.8" stroke-linecap="round" stroke-linejoin="round" />
<path d="M662,914 C650,900 660,886 680,888 C694,890 702,898 704,908" fill="none" stroke="#c39b65" stroke-width="5.6" stroke-linecap="round" stroke-linejoin="round" />
<path d="M668,902 C684,904 698,914 708,906" fill="none" stroke="#21180f" stroke-width="8.8" stroke-linecap="round" stroke-linejoin="round" />
<path d="M668,902 C684,904 698,914 708,906" fill="none" stroke="#c39b65" stroke-width="5.6" stroke-linecap="round" stroke-linejoin="round" />
<path d="M664,924 C680,922 696,920 704,916" fill="none" stroke="#21180f" stroke-width="8.8" stroke-linecap="round" stroke-linejoin="round" />
<path d="M664,924 C680,922 696,920 704,916" fill="none" stroke="#c39b65" stroke-width="5.6" stroke-linecap="round" stroke-linejoin="round" />
<path d="M684,880 C686,870 690,862 694,856" fill="none" stroke="#21180f" stroke-width="5.6" stroke-linecap="round" stroke-linejoin="round" />
<path d="M684,880 C686,870 690,862 694,856" fill="none" stroke="#c39b65" stroke-width="3" stroke-linecap="round" stroke-linejoin="round" />
<path d="M692,882 C696,872 700,866 704,862" fill="none" stroke="#21180f" stroke-width="5.6" stroke-linecap="round" stroke-linejoin="round" />
<path d="M692,882 C696,872 700,866 704,862" fill="none" stroke="#c39b65" stroke-width="3" stroke-linecap="round" stroke-linejoin="round" />
<path d="M747,880 L837,882 L837,909 L747,906 Z" fill="#c9a06a" stroke="#21180f" stroke-width="1.6" stroke-linejoin="round" />
<path d="M905.0,1213.0 C909.8,1210.0 995.0,1208.8 1000.0,1209.0 C1005.0,1209.2 1005.6,1215.5 1006.0,1218.0 C1006.4,1220.5 1007.2,1255.6 1007.0,1258.0 C1006.8,1260.4 1007.1,1265.4 1002.0,1266.0 C996.9,1266.6 909.9,1272.7 905.0,1270.0 C900.1,1267.3 900.2,1216.0 905.0,1213.0 Z" fill="#d3d2d4" stroke="#7a797c" stroke-width="1.6" stroke-linejoin="round"/>
<path d="M915.0,1340.0 C919.2,1335.6 995.1,1330.0 1000.0,1330.0 C1004.9,1330.0 1011.2,1336.5 1012.0,1340.0 C1012.8,1343.5 1015.2,1396.5 1015.0,1400.0 C1014.8,1403.5 1013.0,1409.1 1008.0,1410.0 C1003.0,1410.9 919.6,1421.5 915.0,1418.0 C910.4,1414.5 910.8,1344.4 915.0,1340.0 Z" fill="#d3d2d4" stroke="#7a797c" stroke-width="1.6" stroke-linejoin="round"/>
<path d="M921,1343 C950,1335 990,1330 1008,1334 C1005,1348 985,1356 925,1358 Z" fill="#9e9da0" stroke="#7a797c" stroke-width="1.2"/>
<path d="M672.0,1210.0 C672.1,1207.7 683.3,1202.1 684.0,1204.0 C684.7,1205.9 694.1,1265.7 694.0,1268.0 C693.9,1270.3 682.7,1273.9 682.0,1272.0 C681.3,1270.1 671.9,1212.3 672.0,1210.0 Z" fill="#d3d2d4" stroke="#7a797c" stroke-width="1.6" stroke-linejoin="round"/>
<path d="M703.0,1365.0 C703.1,1362.9 713.4,1358.2 714.0,1360.0 C714.6,1361.8 722.1,1417.9 722.0,1420.0 C721.9,1422.1 710.6,1425.8 710.0,1424.0 C709.4,1422.2 702.9,1367.1 703.0,1365.0 Z" fill="#d3d2d4" stroke="#7a797c" stroke-width="1.6" stroke-linejoin="round"/>
<path d="M680.0,1202.0 C680.8,1196.5 696.8,1197.4 700.0,1197.0 C703.2,1196.6 725.6,1197.7 728.0,1196.0 C730.4,1194.3 733.9,1174.1 736.0,1172.0 C738.1,1169.9 757.1,1164.8 760.0,1165.0 C762.9,1165.2 778.0,1172.7 780.0,1175.0 C782.0,1177.3 791.3,1189.0 790.0,1200.0 C788.7,1211.0 766.0,1330.7 760.0,1340.0 C754.0,1349.3 704.8,1344.0 700.0,1340.0 C695.2,1336.0 689.3,1289.2 688.0,1280.0 C686.7,1270.8 679.2,1207.5 680.0,1202.0 Z" fill="#d3d2d4" stroke="#7a797c" stroke-width="1.6" stroke-linejoin="round"/>
<path d="M692.0,1224.0 C693.3,1222.2 732.5,1216.5 734.0,1218.0 C735.5,1219.5 738.3,1266.2 737.0,1268.0 C735.7,1269.8 697.5,1274.5 696.0,1273.0 C694.5,1271.5 690.7,1225.8 692.0,1224.0 Z" fill="#b2b1b3" stroke="#7a797c" stroke-width="1.3"/>
<path d="M790.0,1173.0 C792.8,1171.2 801.7,1176.1 805.0,1178.0 C808.3,1179.9 825.4,1194.0 830.0,1196.0 C834.6,1198.0 854.5,1201.8 860.0,1202.0 C865.5,1202.2 892.0,1197.3 896.0,1198.0 C900.0,1198.7 906.6,1207.3 908.0,1210.0 C909.4,1212.7 911.5,1214.2 913.0,1230.0 C914.5,1245.8 925.3,1383.5 926.0,1400.0 C926.7,1416.5 922.7,1425.0 921.0,1428.0 C919.3,1431.0 916.1,1435.0 906.0,1436.0 C895.9,1437.0 809.4,1440.5 800.0,1440.0 C790.6,1439.5 794.2,1433.3 793.0,1430.0 C791.8,1426.7 787.6,1414.2 786.0,1400.0 C784.4,1385.8 775.2,1276.7 774.0,1260.0 C772.8,1243.3 770.7,1207.2 772.0,1200.0 C773.3,1192.8 787.2,1174.8 790.0,1173.0 Z" fill="#d3d2d4" stroke="#7a797c" stroke-width="1.6" stroke-linejoin="round"/>
<path d="M802.0,1204.0 C804.3,1204.2 825.2,1205.5 830.0,1206.0 C834.8,1206.5 854.6,1209.9 860.0,1210.0 C865.4,1210.1 891.3,1206.5 895.0,1207.0 C898.7,1207.5 902.9,1213.2 904.0,1216.0 C905.1,1218.8 906.6,1224.7 908.0,1240.0 C909.4,1255.3 920.2,1384.8 921.0,1400.0 C921.8,1415.2 918.4,1419.7 917.0,1422.0 C915.6,1424.3 913.8,1427.2 904.0,1428.0 C894.2,1428.8 808.7,1431.7 800.0,1432.0" fill="none" stroke="#7a797c" stroke-width="1.2"/>
<path d="M810.0,1218.0 C811.8,1216.4 880.0,1212.6 882.0,1214.0 C884.0,1215.4 885.8,1268.4 884.0,1270.0 C882.2,1271.6 817.0,1276.4 815.0,1275.0 C813.0,1273.6 808.2,1219.6 810.0,1218.0 Z" fill="#b2b1b3" stroke="#7a797c" stroke-width="1.4"/>
<path d="M829.0,1364.0 C830.7,1362.3 895.1,1358.5 897.0,1360.0 C898.9,1361.5 901.7,1418.3 900.0,1420.0 C898.3,1421.7 835.9,1424.5 834.0,1423.0 C832.1,1421.5 827.3,1365.7 829.0,1364.0 Z" fill="#b2b1b3" stroke="#7a797c" stroke-width="1.4"/>
<path d="M846,1298 C870,1285 900,1295 910,1310 C900,1330 870,1342 848,1330 Z" fill="#d3d2d4" stroke="#7a797c" stroke-width="1.3"/>
<circle cx="869" cy="1315" r="23" fill="#d3d2d4" stroke="#7a797c" stroke-width="1.5"/>
<circle cx="869" cy="1315" r="18" fill="none" stroke="#7a797c" stroke-width="3" stroke-dasharray="1 2"/>
<circle cx="869" cy="1315" r="13" fill="#d3d2d4" stroke="#7a797c" stroke-width="1.3"/>
<circle cx="869" cy="1315" r="9" fill="none" stroke="#7a797c" stroke-width="1.3"/>
<ellipse cx="869" cy="1315" rx="7" ry="5" fill="#b2b1b3" stroke="#7a797c" stroke-width="1.2"/>
<path d="M736.0,1200.0 C737.5,1194.9 767.3,1196.8 770.0,1198.0 C772.7,1199.2 787.9,1221.9 790.0,1225.0 C792.1,1228.1 810.2,1251.8 812.0,1260.0 C813.8,1268.2 825.6,1383.1 826.0,1390.0 C826.4,1396.9 823.7,1397.5 820.0,1398.0 C816.3,1398.5 756.0,1404.9 752.0,1400.0 C748.0,1395.1 740.8,1310.0 740.0,1300.0 C739.2,1290.0 734.5,1205.1 736.0,1200.0 Z" fill="#d3d2d4" stroke="#7a797c" stroke-width="1.6" stroke-linejoin="round"/>
<path d="M780,1236 L806,1394 M792,1236 L816,1394" stroke="#7a797c" stroke-width="1" fill="none"/>
<path d="M738.0,1130.0 C741.3,1123.5 786.4,1123.1 790.0,1130.0 C793.6,1136.9 793.7,1226.8 792.0,1234.0 C790.3,1241.2 767.5,1238.4 764.0,1238.0 C760.5,1237.6 741.7,1235.2 740.0,1228.0 C738.3,1220.8 734.7,1136.5 738.0,1130.0 Z" fill="#d3d2d4" stroke="#7a797c" stroke-width="1.6" stroke-linejoin="round"/>
<path d="M732,1232 C734,1200 736,1200 742,1195 L740,1228 C760,1240 780,1238 792,1234 L792,1200 C800,1210 804,1220 804,1235 C790,1245 750,1245 732,1232 Z" fill="none" stroke="#7a797c" stroke-width="1.2"/>
<path d="M684.0,1286.0 C685.4,1281.8 697.2,1279.6 700.0,1278.0 C702.8,1276.4 709.8,1270.3 712.0,1270.0 C714.2,1269.7 720.8,1272.0 722.0,1275.0 C723.2,1278.0 724.0,1293.7 724.0,1300.0 C724.0,1306.3 724.4,1334.0 722.0,1338.0 C719.6,1342.0 703.6,1341.8 700.0,1340.0 C696.4,1338.2 687.6,1325.4 686.0,1320.0 C684.4,1314.6 682.6,1290.2 684.0,1286.0 Z" fill="#d3d2d4" stroke="#7a797c" stroke-width="1.6" stroke-linejoin="round"/>
<path d="M712.0,1276.0 L770.0,1264.0 L800.0,1464.0 L764.0,1473.0 L730.0,1466.0 Z" fill="#d3d2d4" stroke="#7a797c" stroke-width="1.6" stroke-linejoin="round"/>
<path d="M720,1272 C740,1262 760,1260 772,1264 L770,1276 C750,1274 730,1276 712,1282 Z" fill="#b2b1b3" stroke="#7a797c" stroke-width="1.2"/>
<path d="M731,1276 L763,1472 M748,1273 L777,1470 M756,1272 L786,1468" stroke="#7a797c" stroke-width="1" fill="none"/>
<path d="M800,1118 L816,1116 C819,1135 815,1156 807,1176 L789,1174 L792,1140 Z" fill="#d3d2d4" stroke="#7a797c" stroke-width="1.4" stroke-linejoin="round"/>
<path d="M757,1030 L806,1032 C816,1034 821,1042 820,1052 C819,1060 814,1066 811,1070 C814,1080 815,1090 814,1097 C818,1100 818,1110 816,1118 L800,1122 L800,1140 L738,1140 L738,1093 C741,1091 743,1090 743,1088 C743,1078 748,1070 752,1066 C750,1058 749,1050 750,1044 C751,1038 753,1033 757,1030 Z" fill="#d3d2d4" stroke="#7a797c" stroke-width="1.5" stroke-linejoin="round"/>
<path d="M750.4,1044 L807,1044.5 M759,1030 L760,1044 M800,1097 C808,1096 814,1098 816,1104 M792,1114 L792,1140 M743,1088 C746,1090 750,1091 752,1090" fill="none" stroke="#7a797c" stroke-width="1.3"/>
<path d="M804,1064 C812,1066 813,1080 811,1090 C809,1097 803,1098 799,1094 C795,1086 797,1070 804,1064 Z" fill="#d3d2d4" stroke="#7a797c" stroke-width="1.3"/>
<path d="M799,1070 C796,1078 796,1088 799,1094 C800,1086 801,1076 803,1066 Z" fill="#8d8c8f" stroke="#7a797c" stroke-width="1"/>
<path d="M740,1113 L755,1113 L755.5,1122.5 L740,1122 Z" fill="#a9a8ab" stroke="#7a797c" stroke-width="1.2"/>
<path d="M755,1114 L792,1115 L792,1123.5 L755.5,1122.5 Z" fill="#fff" stroke="#7a797c" stroke-width="1"/>
<path d="M740,1122 L792,1124 L792,1132 L740,1131 Z" fill="#d3d2d4" stroke="#7a797c" stroke-width="1.2"/>
<path d="M757.0,1020.0 C757.9,1019.7 811.0,1023.6 812.0,1024.0 C813.0,1024.4 814.9,1043.7 814.0,1044.0 C813.1,1044.3 757.0,1042.4 756.0,1042.0 C755.0,1041.6 756.1,1020.3 757.0,1020.0 Z" fill="#d3d2d4" stroke="#7a797c" stroke-width="1.6" stroke-linejoin="round"/>
<path d="M814,944 C826,942 836,952 838,970 C839,990 832,1015 822,1036 L812,1036 Z" fill="#a3a2a5" stroke="#7a797c" stroke-width="1.3"/>
<path d="M810,946 C812,940 818,937 826,939 C822,944 821,950 821,960 L820,1034 L809,1030 Z" fill="#dcdbdd" stroke="#7a797c" stroke-width="1.2"/>
<path d="M758,936.4 L812,935.6 C818,936 822,937 824,939 C816,940 812,942 810.4,948 L808,1025 L751.2,1021 L752.8,948.4 C753,942 754,937 758,936.4 Z" fill="#d3d2d4" stroke="#7a797c" stroke-width="1.5" stroke-linejoin="round"/>
<ellipse cx="778.4" cy="979.6" rx="8" ry="10" fill="#b2b1b3" stroke="#7a797c" stroke-width="1.3"/>
<path d="M739,892 C733,892 731,900 732,915 C733,940 738,962 760,966 C790,970 820,968 838,955 C848,945 850,925 849,905 C848,898 842,897 837,902 L836,912 C837,930 836,945 826,952 C805,958 780,958 762,954 C748,948 745,930 746,912 L747,898 C746,893 743,891 739,892 Z" fill="#c6a06a" fill-opacity="0.9" stroke="#21180f" stroke-width="1.6"/>
<text x="281" y="76" font-size="32.3" textLength="226" lengthAdjust="spacingAndGlyphs" stroke="#111" stroke-width="1.0">strap for length</text>
<text x="313" y="115" font-size="32.3" textLength="163" lengthAdjust="spacingAndGlyphs" stroke="#111" stroke-width="1.0">adjustment</text>
<g fill="#111"><rect x="746.7" y="284.7" width="8" height="48.3"/><rect x="813.3" y="284.7" width="8" height="48.3"/><rect x="813.3" y="284.7" width="26.4" height="7.2"/><rect x="813.3" y="304.8" width="24.8" height="7"/><rect x="813.3" y="325.8" width="26.4" height="7.2"/><path fill-rule="evenodd" d="M765.3,284.7 L782,284.7 C797,284.7 804.7,296 804.7,308.8 C804.7,322 797,333 782,333 L765.3,333 Z M773.3,291.9 L781.5,291.9 C791,291.9 796.6,299 796.6,308.8 C796.6,318.5 791,325.8 781.5,325.8 L773.3,325.8 Z"/></g>
<path d="M735.5,293.5 C732,289.5 728.5,288.3 724.5,288.3 C718,288.3 713.8,292.5 713.8,297.5 C713.8,303.5 719,305.5 725.5,308 C732,310.5 735.3,313.5 735.3,320 C735.3,325.5 730.5,329.4 724.3,329.4 C718.5,329.4 714,326 711.8,321" fill="none" stroke="#111" stroke-width="7.6"/>
<text x="675" y="428" font-size="32.3" textLength="154" lengthAdjust="spacingAndGlyphs" stroke="#111" stroke-width="1.0">min. 90cm</text>
<text x="435" y="671" font-size="32.3" textLength="153" lengthAdjust="spacingAndGlyphs" stroke="#111" stroke-width="1.0">min. 90cm</text>
<text x="425" y="864" font-size="32.3" textLength="154" lengthAdjust="spacingAndGlyphs" stroke="#111" stroke-width="1.0">min. 90cm</text>
<text x="766" y="932" font-size="23.0" textLength="46" lengthAdjust="spacingAndGlyphs" stroke="#111" stroke-width="1.0">5cm</text>
<text x="338" y="1046" font-size="32.3" textLength="201" lengthAdjust="spacingAndGlyphs" stroke="#111" stroke-width="1.0">lacing for size</text>
<text x="358" y="1085" font-size="32.3" textLength="161" lengthAdjust="spacingAndGlyphs" stroke="#111" stroke-width="1.0">adjustment</text>
<text x="327" y="1123" font-size="32.3" textLength="216" lengthAdjust="spacingAndGlyphs" stroke="#111" stroke-width="1.0">(approximately</text>
<text x="341" y="1161" font-size="32.3" textLength="196" lengthAdjust="spacingAndGlyphs" stroke="#111" stroke-width="1.0">6cm per side)</text>
<text x="912" y="1078" font-size="32.3" textLength="144" lengthAdjust="spacingAndGlyphs" stroke="#111" stroke-width="1.0">D-ring for</text>
<text x="865" y="1117" font-size="32.3" textLength="247" lengthAdjust="spacingAndGlyphs" stroke="#111" stroke-width="1.0">holster mounting</text>
<line x1="507" y1="103" x2="619" y2="142" stroke="#111" stroke-width="3"/>
<line x1="469" y1="1008" x2="619" y2="954" stroke="#111" stroke-width="3"/>
<line x1="666" y1="459.5" x2="744" y2="459.5" stroke="#111" stroke-width="3"/>
<line x1="744" y1="437" x2="744" y2="480" stroke="#111" stroke-width="3"/>
<line x1="765.6" y1="437" x2="765.6" y2="480" stroke="#111" stroke-width="3"/>
<line x1="765.6" y1="458.5" x2="843.6" y2="458.5" stroke="#111" stroke-width="3"/>
<line x1="745.6" y1="903.8" x2="834.4" y2="910.4" stroke="#111" stroke-width="3"/>
<line x1="745.6" y1="890.6" x2="745.6" y2="912.8" stroke="#111" stroke-width="3"/>
<line x1="834.4" y1="900" x2="834.4" y2="921" stroke="#111" stroke-width="3"/>
<path d="M618.3,463.3 C600,466 592,478 595,492 C598,510 620,520 646.7,521 C700,524 740,525 780,525 C840,524 880,522 913,520 C960,517 990,514 1013,510 C1045,504 1063,495 1061.7,484 C1060,472 1045,465 1013,465" fill="none" stroke="#111" stroke-width="3.4" stroke-linecap="round"/>
<path d="M586.7,455 L618.3,463.3" stroke="#111" stroke-width="3.4"/>
<path d="M1013,465 L1031.7,478.3" stroke="#111" stroke-width="3.4"/>
<path d="M651.7,633.3 C630,628 612,645 613.3,662 C614,682 630,690 646.7,691 C700,693 746.7,693.3 746.7,693.3 L880,691.7 C920,690 960,687 980,685 C1010,682 1022,680 1030,676.7 C1060,670 1071,662 1070,654 C1068,642 1050,635 1023.3,635" fill="none" stroke="#111" stroke-width="3.4" stroke-linecap="round"/>
<path d="M623.3,625 L651.7,633.3" stroke="#111" stroke-width="3.4"/>
<path d="M1023.3,635 L1041.7,646.7" stroke="#111" stroke-width="3.4"/>
<path d="M638.3,823.3 C615,822 600,838 600,853.3 C600,870 612,881 630,881.7 C680,883 746.7,883.3 746.7,883.3 L880,881.7 C920,880 960,877 980,875 C1010,872 1030,870 1046.7,866.7 C1070,860 1080,852 1078,843 C1076,833 1060,826 1033,825" fill="none" stroke="#111" stroke-width="3.4" stroke-linecap="round"/>
<path d="M610,815 L638.3,823.3" stroke="#111" stroke-width="3.4"/>
<path d="M1033,825 L1050,838.3" stroke="#111" stroke-width="3.4"/>
</svg>
</body></html>
